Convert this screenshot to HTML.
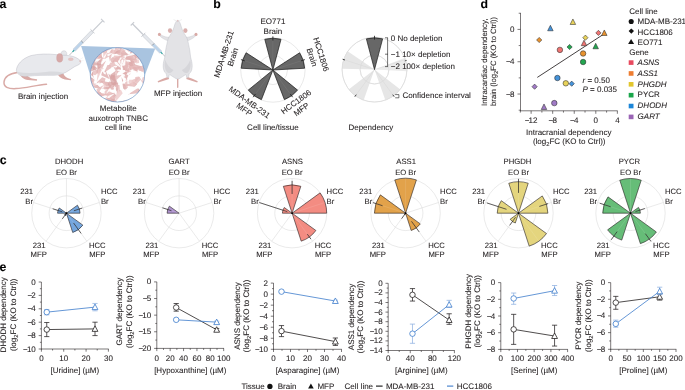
<!DOCTYPE html>
<html><head><meta charset="utf-8"><style>
html,body{margin:0;padding:0;background:#fff;}
body{width:685px;height:390px;overflow:hidden;}
svg{display:block;font-family:"Liberation Sans",sans-serif;will-change:transform;}
text{stroke:#231f20;stroke-width:0.08px;text-rendering:geometricPrecision;}
</style></head><body>
<svg width="685" height="390" viewBox="0 0 685 390">
<rect width="685" height="390" fill="#fff"/>
<text x="-0.50" y="8.20" font-size="12.3" fill="#000" font-weight="bold" >a</text>
<text x="213.20" y="8.20" font-size="12.3" fill="#000" font-weight="bold" >b</text>
<text x="-0.30" y="163.60" font-size="12.3" fill="#000" font-weight="bold" >c</text>
<text x="480.60" y="8.00" font-size="12.3" fill="#000" font-weight="bold" >d</text>
<text x="-0.40" y="271.30" font-size="12.3" fill="#000" font-weight="bold" >e</text>
<path d="M17.5,72.5 C10,73.5 4.5,77 4,82 C3.6,87 8,89 16,88.6 C26,88.2 36,85 46.5,84.2" fill="none" stroke="#d9aaa6" stroke-width="1.5" stroke-linecap="round"/>
<path d="M19.5,73 C20.5,77 23.5,79.4 28,80 L36.9,80.7 L37.1,79.3 C32,78.7 28.5,77.8 26.5,74.5 Z" fill="#d9aaa6"/>
<path d="M56.5,72 C58,76 60.8,78.7 65,79.5 L70.8,80.3 L71,78.9 C67,78.3 64.3,76.8 63,72.5 Z" fill="#d9aaa6"/>
<path d="M16.4,70.5 C16.5,65 22,58.5 31,55.6 C38,53.8 48,53.6 57,54.7 C63,55 69,55.2 73.5,56.6 C77,57.8 80,59.8 80.9,61.9 C80.8,63.8 78.2,65.2 75,66.4 C72,68.2 69,70.5 66,72.2 C62,74.2 58,75.2 54,75.3 C46,75.4 36,75.2 28,76.2 C22,76.8 17.2,75 16.4,70.5 Z" fill="#e8e9ed" stroke="#b9bac2" stroke-width="0.45"/>
<path d="M17,72 C19,75.5 23,76.6 28,76 C36,75 46,75.2 54,75.1 C58,75 61,74.2 64,73 C58,71.5 52,71.3 46,72 C36,73 26,73.5 17,72 Z" fill="#d9dade"/>
<path d="M61,55 C60.6,52 62.2,50.4 64.6,50.8 C66.6,51.3 67.2,53.2 66.6,55.2 Z" fill="#e6e7ea" stroke="#b9bac2" stroke-width="0.35"/>
<ellipse cx="59.7" cy="57.9" rx="3.1" ry="4.3" fill="#d7a9a8" stroke="#c49a98" stroke-width="0.3"/>
<ellipse cx="70.8" cy="59.3" rx="2.8" ry="1.7" fill="#e3c4c3"/>
<circle cx="80.2" cy="61.2" r="0.9" fill="#e3c0c0"/>
<path d="M79,60 L83,57.5 M79.5,61 L83.5,60.5" stroke="#ddd" stroke-width="0.3"/>
<path d="M81.1,45.9 L155.2,48.6 L144.5,76 L90.5,76 Z" fill="#a9c4e0"/>
<clipPath id="cc"><circle cx="117.5" cy="74.8" r="27.2"/></clipPath>
<circle cx="117.5" cy="74.8" r="27.2" fill="#fff"/>
<g clip-path="url(#cc)"><path d="M122.5,74.4 L115.6,80.8 L112.7,79.4 L113.2,76.2 Z" fill="#e6baba" opacity="0.78"/><path d="M89.3,94.5 L98.8,90.9 L101.3,92.7 L99.4,95.1 Z" fill="#deaaaa" opacity="0.78"/><path d="M109.4,40.8 L107.4,51.1 L104.8,52.6 L103.9,49.7 Z" fill="#deaaaa" opacity="0.78"/><path d="M140.2,79.4 L146.7,82.8 L146.7,85.2 L144.3,85.5 Z" fill="#e6baba" opacity="0.78"/><path d="M98.3,40.3 L93.2,49.3 L89.5,48.6 L89.0,44.9 Z" fill="#edc8c8" opacity="0.78"/><path d="M104.2,94.2 L114.5,92.8 L116.4,95.6 L113.8,97.9 Z" fill="#d9a4a4" opacity="0.78"/><path d="M84.8,89.2 L91.0,81.2 L94.5,82.8 L94.7,86.7 Z" fill="#e8bcbc" opacity="0.78"/><path d="M131.0,71.4 L128.1,63.8 L129.7,61.8 L131.8,63.3 Z" fill="#e8bcbc" opacity="0.78"/><path d="M102.6,103.3 L109.7,93.0 L113.7,93.7 L113.8,97.8 Z" fill="#e8bcbc" opacity="0.78"/><path d="M108.1,103.1 L99.1,103.1 L98.4,99.8 L101.0,97.6 Z" fill="#deaaaa" opacity="0.78"/><path d="M93.2,75.1 L93.8,83.1 L91.5,84.4 L90.0,82.4 Z" fill="#edc8c8" opacity="0.78"/><path d="M94.4,66.2 L89.5,72.1 L86.9,70.2 L86.8,66.9 Z" fill="#e8bcbc" opacity="0.78"/><path d="M95.2,101.0 L88.7,93.5 L90.1,90.5 L93.2,91.3 Z" fill="#e2b2b2" opacity="0.78"/><path d="M139.4,95.0 L145.6,88.8 L148.4,90.0 L148.0,93.0 Z" fill="#e2b2b2" opacity="0.78"/><path d="M97.0,95.2 L87.8,100.0 L85.2,97.0 L86.7,93.4 Z" fill="#e8bcbc" opacity="0.78"/><path d="M106.1,60.6 L101.6,69.8 L98.6,70.4 L98.5,67.4 Z" fill="#e2b2b2" opacity="0.78"/><path d="M101.4,52.4 L102.5,60.8 L100.0,62.3 L98.0,60.2 Z" fill="#e8bcbc" opacity="0.78"/><path d="M88.0,52.7 L93.9,55.9 L93.0,58.5 L90.3,59.0 Z" fill="#e6baba" opacity="0.78"/><path d="M105.3,103.3 L114.6,99.2 L117.0,102.1 L115.3,105.5 Z" fill="#e2b2b2" opacity="0.78"/><path d="M126.4,73.0 L122.2,63.6 L124.8,61.1 L128.0,62.8 Z" fill="#e2b2b2" opacity="0.78"/><path d="M135.7,112.3 L128.8,102.0 L130.9,98.5 L134.8,99.9 Z" fill="#e6baba" opacity="0.78"/><path d="M99.2,53.4 L90.7,49.2 L90.5,46.2 L93.5,45.8 Z" fill="#d9a4a4" opacity="0.78"/><path d="M134.1,51.6 L131.7,61.4 L128.7,62.4 L127.7,59.4 Z" fill="#e2b2b2" opacity="0.78"/><path d="M149.5,109.8 L141.1,105.2 L141.7,101.8 L145.1,101.3 Z" fill="#e6baba" opacity="0.78"/><path d="M130.6,58.0 L125.1,63.3 L122.8,62.5 L123.3,60.1 Z" fill="#edc8c8" opacity="0.78"/><path d="M119.6,62.0 L111.2,62.2 L110.3,59.2 L112.7,57.1 Z" fill="#e2b2b2" opacity="0.78"/><path d="M85.4,55.6 L92.4,50.2 L94.9,52.5 L94.2,55.8 Z" fill="#e6baba" opacity="0.78"/><path d="M128.5,54.6 L121.6,56.3 L121.1,52.9 L123.0,50.0 Z" fill="#d9a4a4" opacity="0.78"/><path d="M101.0,43.1 L107.4,45.4 L107.5,47.7 L105.2,48.5 Z" fill="#edc8c8" opacity="0.78"/><path d="M114.9,109.0 L105.1,107.3 L104.6,103.7 L107.8,102.0 Z" fill="#d9a4a4" opacity="0.78"/><path d="M139.6,50.7 L132.0,54.5 L129.8,53.0 L131.1,50.7 Z" fill="#deaaaa" opacity="0.78"/><path d="M132.2,102.4 L140.2,94.2 L143.9,95.7 L143.4,99.7 Z" fill="#e6baba" opacity="0.78"/><path d="M84.0,88.7 L87.2,83.0 L89.5,83.5 L89.8,85.8 Z" fill="#e8bcbc" opacity="0.78"/><path d="M133.4,97.3 L127.4,106.3 L124.0,106.2 L124.1,102.8 Z" fill="#d9a4a4" opacity="0.78"/><path d="M120.2,74.4 L128.8,69.7 L131.4,71.7 L130.0,74.8 Z" fill="#e6baba" opacity="0.78"/><path d="M82.0,81.8 L89.2,78.0 L91.1,80.7 L89.9,83.7 Z" fill="#deaaaa" opacity="0.78"/><path d="M123.0,85.4 L134.3,82.0 L137.1,84.2 L134.7,86.8 Z" fill="#e2b2b2" opacity="0.78"/><path d="M133.7,67.0 L125.6,58.1 L126.8,54.5 L130.6,55.4 Z" fill="#deaaaa" opacity="0.78"/><path d="M111.2,63.5 L116.0,56.8 L118.9,58.2 L119.2,61.5 Z" fill="#e2b2b2" opacity="0.78"/><path d="M133.5,63.9 L141.5,66.2 L142.0,68.9 L139.5,69.7 Z" fill="#deaaaa" opacity="0.78"/><path d="M114.7,100.1 L107.4,101.7 L107.0,98.1 L109.1,95.2 Z" fill="#e2b2b2" opacity="0.78"/><path d="M104.1,68.1 L95.2,75.3 L91.8,74.3 L93.0,71.0 Z" fill="#e6baba" opacity="0.78"/><path d="M123.4,53.6 L119.1,65.2 L115.6,66.2 L114.9,62.6 Z" fill="#e8bcbc" opacity="0.78"/><path d="M129.4,55.2 L138.8,59.9 L139.2,63.1 L136.0,63.4 Z" fill="#edc8c8" opacity="0.78"/><path d="M112.8,93.1 L105.5,94.8 L104.4,92.1 L106.1,89.8 Z" fill="#e8bcbc" opacity="0.78"/><path d="M135.6,50.2 L136.9,61.7 L133.2,63.4 L130.3,60.5 Z" fill="#e8bcbc" opacity="0.78"/><path d="M108.2,73.6 L117.2,81.0 L115.8,84.8 L111.7,84.7 Z" fill="#d9a4a4" opacity="0.78"/><path d="M99.0,104.5 L96.4,93.9 L99.5,91.7 L102.4,94.1 Z" fill="#e6baba" opacity="0.78"/><path d="M129.2,63.5 L127.5,54.9 L130.6,53.5 L133.3,55.7 Z" fill="#e6baba" opacity="0.78"/><path d="M123.5,113.9 L114.9,106.0 L116.0,102.3 L119.8,102.8 Z" fill="#e2b2b2" opacity="0.78"/><path d="M91.6,94.1 L95.2,100.5 L93.0,102.4 L90.3,101.4 Z" fill="#d9a4a4" opacity="0.78"/><path d="M131.3,42.1 L141.8,42.8 L143.1,46.0 L140.2,47.7 Z" fill="#edc8c8" opacity="0.78"/><path d="M118.2,93.8 L112.3,84.5 L114.6,81.4 L118.2,82.8 Z" fill="#d9a4a4" opacity="0.78"/><path d="M143.4,60.5 L141.0,52.1 L142.9,50.1 L144.9,51.9 Z" fill="#edc8c8" opacity="0.78"/><path d="M114.8,102.6 L117.0,90.6 L120.9,89.7 L122.7,93.3 Z" fill="#edc8c8" opacity="0.78"/><path d="M113.1,54.2 L116.0,45.6 L118.9,45.2 L119.8,48.1 Z" fill="#e8bcbc" opacity="0.78"/><path d="M95.0,99.5 L99.7,94.4 L102.0,96.2 L101.9,99.1 Z" fill="#d9a4a4" opacity="0.78"/><path d="M140.2,60.5 L132.3,54.8 L133.4,51.4 L137.0,51.3 Z" fill="#d9a4a4" opacity="0.78"/><path d="M117.2,102.1 L128.9,99.6 L131.8,101.4 L129.1,103.5 Z" fill="#e2b2b2" opacity="0.78"/><path d="M118.4,70.1 L115.6,79.5 L112.7,80.4 L112.0,77.5 Z" fill="#e6baba" opacity="0.78"/><path d="M135.0,86.1 L135.3,77.0 L138.9,76.5 L141.1,79.3 Z" fill="#e6baba" opacity="0.78"/><path d="M109.0,94.0 L100.3,98.5 L97.8,96.3 L99.2,93.2 Z" fill="#e2b2b2" opacity="0.78"/><path d="M120.4,51.9 L111.9,54.3 L110.1,51.6 L112.0,49.0 Z" fill="#e8bcbc" opacity="0.78"/><path d="M121.4,59.9 L120.8,69.9 L117.7,71.1 L115.9,68.2 Z" fill="#d9a4a4" opacity="0.78"/><path d="M86.4,103.6 L97.0,97.6 L100.3,99.9 L98.5,103.5 Z" fill="#deaaaa" opacity="0.78"/><path d="M109.7,79.3 L101.2,75.2 L102.2,71.7 L105.7,70.8 Z" fill="#deaaaa" opacity="0.78"/><path d="M113.6,54.3 L118.1,49.3 L120.3,50.6 L120.2,53.2 Z" fill="#d9a4a4" opacity="0.78"/><path d="M136.8,53.1 L131.5,46.9 L133.6,44.4 L136.9,44.9 Z" fill="#edc8c8" opacity="0.78"/><path d="M121.9,59.5 L131.1,56.7 L133.2,59.5 L131.2,62.2 Z" fill="#e6baba" opacity="0.78"/><path d="M121.5,77.1 L126.7,87.5 L125.8,90.5 L123.2,88.6 Z" fill="#d9a4a4" opacity="0.78"/><path d="M116.2,82.7 L109.8,77.9 L111.3,75.0 L114.5,74.9 Z" fill="#d9a4a4" opacity="0.78"/><path d="M91.4,55.2 L101.3,55.9 L102.9,58.4 L100.2,59.8 Z" fill="#d9a4a4" opacity="0.78"/><path d="M129.2,74.4 L122.1,66.7 L124.2,63.5 L128.0,64.1 Z" fill="#e2b2b2" opacity="0.78"/><path d="M105.8,100.3 L101.9,106.5 L99.3,105.8 L99.0,103.2 Z" fill="#d9a4a4" opacity="0.78"/><path d="M82.1,72.7 L91.9,65.5 L95.5,66.9 L94.1,70.4 Z" fill="#d9a4a4" opacity="0.78"/><path d="M92.6,63.4 L97.1,68.3 L95.7,70.4 L93.2,70.0 Z" fill="#d9a4a4" opacity="0.78"/><path d="M102.4,101.9 L107.0,92.1 L110.6,92.1 L111.3,95.7 Z" fill="#edc8c8" opacity="0.78"/><path d="M120.1,91.9 L115.8,86.5 L117.1,84.5 L119.4,85.0 Z" fill="#e8bcbc" opacity="0.78"/><path d="M140.6,76.6 L134.2,83.4 L131.4,82.8 L131.9,80.0 Z" fill="#e8bcbc" opacity="0.78"/><path d="M111.3,94.5 L99.7,97.2 L96.8,95.4 L99.4,93.3 Z" fill="#e8bcbc" opacity="0.78"/><path d="M101.4,88.7 L94.2,87.7 L94.1,84.9 L96.5,83.4 Z" fill="#deaaaa" opacity="0.78"/><path d="M113.5,67.0 L120.3,68.4 L119.6,71.5 L116.9,73.1 Z" fill="#e2b2b2" opacity="0.78"/><path d="M97.8,63.6 L100.5,72.1 L98.5,74.1 L96.3,72.4 Z" fill="#e2b2b2" opacity="0.78"/><path d="M90.3,98.2 L90.5,90.7 L93.9,90.9 L96.1,93.5 Z" fill="#d9a4a4" opacity="0.78"/><path d="M147.3,87.8 L141.6,79.6 L143.0,76.8 L146.0,77.9 Z" fill="#edc8c8" opacity="0.78"/><path d="M104.0,44.8 L107.6,51.9 L104.3,53.5 L101.0,52.2 Z" fill="#e2b2b2" opacity="0.78"/><path d="M137.7,87.6 L144.2,96.8 L142.2,100.1 L138.5,98.9 Z" fill="#deaaaa" opacity="0.78"/><path d="M102.2,48.4 L101.7,56.6 L99.3,57.8 L98.0,55.5 Z" fill="#edc8c8" opacity="0.78"/><path d="M154.2,101.3 L145.6,102.0 L145.1,98.4 L147.7,95.7 Z" fill="#edc8c8" opacity="0.78"/><path d="M99.4,80.5 L109.0,82.3 L109.9,85.4 L106.9,86.7 Z" fill="#deaaaa" opacity="0.78"/><path d="M126.9,75.0 L127.8,87.2 L125.8,89.8 L124.2,86.9 Z" fill="#e6baba" opacity="0.78"/><path d="M85.5,62.2 L93.2,56.1 L96.1,58.2 L95.3,61.8 Z" fill="#d9a4a4" opacity="0.78"/><path d="M110.0,62.1 L107.4,50.5 L110.1,47.8 L112.7,50.5 Z" fill="#e6baba" opacity="0.78"/><path d="M116.2,70.6 L114.4,77.6 L111.5,77.4 L110.3,74.8 Z" fill="#d9a4a4" opacity="0.78"/><path d="M92.4,74.4 L95.3,81.1 L92.0,82.2 L88.8,80.7 Z" fill="#e2b2b2" opacity="0.78"/><path d="M116.4,95.7 L112.7,104.9 L109.2,104.8 L108.3,101.5 Z" fill="#deaaaa" opacity="0.78"/><path d="M134.8,68.4 L144.8,67.7 L146.6,70.4 L144.0,72.4 Z" fill="#edc8c8" opacity="0.78"/><path d="M125.5,56.7 L117.5,63.8 L114.2,62.1 L115.0,58.4 Z" fill="#e8bcbc" opacity="0.78"/><path d="M95.0,61.3 L87.3,62.3 L86.7,59.0 L88.9,56.5 Z" fill="#deaaaa" opacity="0.78"/><path d="M83.1,69.4 L89.1,61.2 L92.6,62.3 L92.6,65.9 Z" fill="#edc8c8" opacity="0.78"/><path d="M83.9,102.9 L90.7,96.0 L93.9,98.2 L93.6,102.0 Z" fill="#e2b2b2" opacity="0.78"/><path d="M94.5,40.1 L92.0,51.6 L89.2,53.4 L88.3,50.1 Z" fill="#e2b2b2" opacity="0.78"/><path d="M117.5,45.6 L125.3,50.3 L125.3,53.2 L122.4,53.3 Z" fill="#e8bcbc" opacity="0.78"/><path d="M104.4,59.3 L107.2,52.3 L110.0,52.8 L110.9,55.5 Z" fill="#e6baba" opacity="0.78"/><path d="M93.9,84.9 L102.2,77.3 L105.6,78.4 L104.7,81.9 Z" fill="#e2b2b2" opacity="0.78"/><path d="M145.1,95.5 L141.4,88.8 L144.5,87.2 L147.8,88.3 Z" fill="#e6baba" opacity="0.78"/><path d="M123.6,76.4 L122.4,65.8 L125.3,63.8 L127.7,66.5 Z" fill="#e6baba" opacity="0.78"/><path d="M99.7,73.2 L96.3,61.5 L98.7,58.6 L101.5,61.1 Z" fill="#d9a4a4" opacity="0.78"/><path d="M148.6,99.1 L141.7,99.6 L140.9,97.1 L142.8,95.3 Z" fill="#deaaaa" opacity="0.78"/><path d="M90.4,54.6 L86.1,47.3 L88.8,45.2 L92.0,46.3 Z" fill="#d9a4a4" opacity="0.78"/><path d="M106.0,57.9 L97.2,61.3 L94.9,59.1 L96.7,56.6 Z" fill="#edc8c8" opacity="0.78"/><path d="M111.5,84.0 L109.7,90.7 L107.3,90.9 L106.3,88.6 Z" fill="#e6baba" opacity="0.78"/><path d="M127.9,94.5 L137.2,88.6 L140.2,90.0 L138.8,93.1 Z" fill="#e2b2b2" opacity="0.78"/><path d="M117.6,83.5 L109.6,86.7 L107.7,84.2 L109.2,81.4 Z" fill="#d9a4a4" opacity="0.78"/><path d="M131.7,48.0 L139.3,54.6 L138.4,57.8 L135.1,57.5 Z" fill="#edc8c8" opacity="0.78"/><path d="M84.0,46.3 L93.6,47.2 L94.3,50.7 L91.3,52.5 Z" fill="#edc8c8" opacity="0.78"/><path d="M132.7,56.0 L134.4,44.1 L138.0,42.7 L139.6,46.2 Z" fill="#d9a4a4" opacity="0.78"/><path d="M103.1,81.1 L107.7,87.8 L106.4,90.1 L103.9,89.2 Z" fill="#edc8c8" opacity="0.78"/><path d="M133.5,60.0 L128.1,66.6 L125.3,65.5 L125.4,62.5 Z" fill="#e6baba" opacity="0.78"/><path d="M150.0,96.7 L144.0,104.0 L140.8,102.3 L140.8,98.7 Z" fill="#edc8c8" opacity="0.78"/><path d="M125.2,56.0 L115.3,60.7 L112.5,58.6 L114.2,55.6 Z" fill="#e8bcbc" opacity="0.78"/><path d="M103.7,73.1 L107.5,65.0 L110.6,65.1 L111.2,68.1 Z" fill="#e2b2b2" opacity="0.78"/><path d="M126.5,71.3 L130.3,64.6 L133.2,65.8 L133.8,68.9 Z" fill="#e2b2b2" opacity="0.78"/><path d="M103.7,85.1 L99.2,91.8 L96.7,91.6 L96.7,89.1 Z" fill="#e6baba" opacity="0.78"/><path d="M89.2,60.2 L88.0,53.2 L91.4,52.9 L94.0,54.9 Z" fill="#deaaaa" opacity="0.78"/><path d="M92.9,71.3 L93.2,78.2 L91.0,79.2 L89.4,77.3 Z" fill="#d9a4a4" opacity="0.78"/><path d="M103.6,65.2 L93.3,65.5 L91.4,63.2 L94.0,61.7 Z" fill="#d9a4a4" opacity="0.78"/><path d="M101.4,88.3 L112.9,85.2 L115.7,87.3 L113.2,89.8 Z" fill="#deaaaa" opacity="0.78"/><path d="M121.0,63.1 L111.5,67.6 L108.7,65.6 L110.4,62.6 Z" fill="#e6baba" opacity="0.78"/><path d="M131.2,44.9 L138.0,47.1 L136.9,50.2 L134.0,51.5 Z" fill="#d9a4a4" opacity="0.78"/><path d="M103.7,49.6 L106.9,43.1 L109.6,43.9 L110.4,46.7 Z" fill="#e6baba" opacity="0.78"/><path d="M123.2,65.8 L128.4,75.8 L126.6,78.9 L123.6,77.1 Z" fill="#deaaaa" opacity="0.78"/><path d="M147.6,67.9 L139.8,60.8 L141.1,57.5 L144.8,57.8 Z" fill="#edc8c8" opacity="0.78"/><path d="M96.7,81.7 L98.0,69.6 L100.5,67.4 L101.6,70.6 Z" fill="#edc8c8" opacity="0.78"/><path d="M137.8,72.6 L128.5,64.6 L129.7,60.6 L133.9,61.0 Z" fill="#deaaaa" opacity="0.78"/><path d="M91.0,66.2 L90.5,74.5 L87.9,75.5 L86.5,73.2 Z" fill="#edc8c8" opacity="0.78"/><path d="M98.6,49.6 L102.7,58.7 L101.0,61.3 L98.5,59.5 Z" fill="#e2b2b2" opacity="0.78"/><path d="M151.0,62.8 L142.5,71.4 L138.7,70.5 L139.5,66.7 Z" fill="#e6baba" opacity="0.78"/><path d="M125.0,53.0 L117.6,62.3 L114.1,62.3 L114.6,58.8 Z" fill="#e6baba" opacity="0.78"/><path d="M139.3,44.0 L135.3,51.9 L132.4,51.9 L132.1,49.1 Z" fill="#e2b2b2" opacity="0.78"/><path d="M126.6,66.3 L136.2,65.7 L137.8,68.3 L135.4,70.1 Z" fill="#e8bcbc" opacity="0.78"/><path d="M135.8,59.7 L126.6,61.4 L124.7,58.9 L126.9,56.7 Z" fill="#e2b2b2" opacity="0.78"/><path d="M134.1,87.0 L128.3,82.3 L129.3,79.7 L132.1,79.7 Z" fill="#edc8c8" opacity="0.78"/><path d="M149.1,101.1 L139.8,95.1 L140.2,91.5 L143.9,91.3 Z" fill="#e6baba" opacity="0.78"/><path d="M120.3,47.9 L122.6,54.5 L119.4,55.3 L116.5,53.7 Z" fill="#e2b2b2" opacity="0.78"/><path d="M135.5,60.0 L134.9,49.3 L137.1,47.2 L138.8,49.8 Z" fill="#deaaaa" opacity="0.78"/><path d="M129.0,40.5 L131.7,50.0 L129.1,52.1 L126.5,50.0 Z" fill="#e8bcbc" opacity="0.78"/><path d="M140.5,66.5 L136.2,72.6 L133.4,70.6 L133.1,67.3 Z" fill="#e2b2b2" opacity="0.78"/><path d="M78.1,70.0 L89.9,66.3 L92.7,69.5 L90.1,72.9 Z" fill="#edc8c8" opacity="0.78"/><path d="M103.1,57.6 L103.5,48.1 L106.9,47.3 L109.0,50.1 Z" fill="#edc8c8" opacity="0.78"/><path d="M89.5,47.4 L94.9,54.1 L94.7,56.5 L92.5,55.5 Z" fill="#ffffff" opacity="0.9"/><path d="M124.7,56.8 L133.1,52.3 L135.6,52.8 L134.0,54.9 Z" fill="#ffffff" opacity="0.9"/><path d="M122.8,69.0 L115.0,64.3 L114.4,61.8 L117.0,62.0 Z" fill="#ffffff" opacity="0.9"/><path d="M141.5,83.7 L137.5,88.2 L135.6,87.9 L135.9,86.1 Z" fill="#ffffff" opacity="0.9"/><path d="M150.4,86.3 L142.2,90.0 L139.9,89.4 L141.5,87.6 Z" fill="#ffffff" opacity="0.9"/><path d="M90.4,61.2 L93.7,56.6 L95.4,56.4 L95.2,58.0 Z" fill="#ffffff" opacity="0.9"/><path d="M100.2,67.5 L105.7,72.5 L106.0,74.5 L104.0,73.9 Z" fill="#ffffff" opacity="0.9"/><path d="M100.7,87.6 L94.5,82.2 L93.8,80.1 L95.8,80.9 Z" fill="#ffffff" opacity="0.9"/><path d="M92.0,50.8 L100.2,48.0 L102.4,48.4 L100.6,49.7 Z" fill="#ffffff" opacity="0.9"/><path d="M83.2,105.7 L91.0,101.1 L93.3,101.2 L91.8,103.0 Z" fill="#ffffff" opacity="0.9"/><path d="M139.5,103.3 L134.8,99.2 L134.6,97.6 L136.3,98.1 Z" fill="#ffffff" opacity="0.9"/><path d="M135.4,70.0 L128.8,75.1 L126.4,74.8 L127.5,72.7 Z" fill="#ffffff" opacity="0.9"/><path d="M125.3,58.5 L125.3,65.1 L123.5,66.1 L122.3,64.3 Z" fill="#ffffff" opacity="0.9"/><path d="M121.6,67.5 L118.1,61.7 L118.6,59.9 L120.2,60.9 Z" fill="#ffffff" opacity="0.9"/><path d="M117.5,63.9 L120.0,57.8 L121.5,56.9 L121.5,58.6 Z" fill="#ffffff" opacity="0.9"/><path d="M123.2,59.4 L129.8,60.1 L131.0,61.4 L129.3,62.0 Z" fill="#ffffff" opacity="0.9"/><path d="M118.4,72.9 L124.6,74.2 L125.1,76.2 L123.2,77.0 Z" fill="#ffffff" opacity="0.9"/><path d="M152.6,83.3 L145.7,87.2 L143.6,87.1 L145.0,85.7 Z" fill="#ffffff" opacity="0.9"/><path d="M131.3,95.9 L125.5,91.0 L125.2,88.9 L127.2,89.5 Z" fill="#ffffff" opacity="0.9"/><path d="M112.6,47.4 L109.2,53.1 L107.1,53.1 L107.0,51.0 Z" fill="#ffffff" opacity="0.9"/><path d="M115.4,95.5 L113.6,87.6 L114.7,85.7 L116.0,87.5 Z" fill="#ffffff" opacity="0.9"/><path d="M97.3,105.7 L91.7,98.7 L92.0,96.1 L94.3,97.2 Z" fill="#ffffff" opacity="0.9"/><path d="M112.8,52.9 L108.7,56.2 L107.1,55.5 L107.6,53.8 Z" fill="#ffffff" opacity="0.9"/><path d="M106.1,93.7 L109.0,88.4 L110.8,88.2 L110.9,90.0 Z" fill="#ffffff" opacity="0.9"/><path d="M127.6,77.3 L134.2,70.9 L136.8,71.0 L135.9,73.4 Z" fill="#ffffff" opacity="0.9"/><path d="M145.8,45.3 L146.9,54.7 L145.3,56.8 L143.9,54.6 Z" fill="#ffffff" opacity="0.9"/><path d="M124.4,76.9 L125.1,82.9 L123.8,84.1 L122.8,82.7 Z" fill="#ffffff" opacity="0.9"/><path d="M96.5,81.1 L90.6,77.1 L90.1,75.2 L92.0,75.5 Z" fill="#ffffff" opacity="0.9"/><path d="M101.7,58.3 L97.3,61.8 L95.7,61.0 L96.2,59.2 Z" fill="#ffffff" opacity="0.9"/><path d="M123.8,95.2 L129.5,90.1 L131.4,89.8 L130.5,91.6 Z" fill="#ffffff" opacity="0.9"/><path d="M115.5,93.0 L109.3,98.0 L107.2,98.0 L108.2,96.1 Z" fill="#ffffff" opacity="0.9"/><path d="M96.0,98.8 L105.1,95.3 L107.6,96.1 L105.7,97.9 Z" fill="#ffffff" opacity="0.9"/><path d="M143.0,59.8 L134.9,54.1 L133.9,51.8 L136.3,52.5 Z" fill="#ffffff" opacity="0.9"/><path d="M128.1,71.8 L118.4,71.3 L116.3,70.0 L118.7,69.3 Z" fill="#ffffff" opacity="0.9"/><path d="M119.3,75.7 L123.1,70.0 L125.2,69.9 L125.1,72.0 Z" fill="#ffffff" opacity="0.9"/><path d="M139.3,105.1 L137.9,95.9 L138.8,93.6 L139.9,95.8 Z" fill="#ffffff" opacity="0.9"/><path d="M132.9,102.1 L138.3,99.7 L139.8,101.1 L138.8,102.7 Z" fill="#ffffff" opacity="0.9"/><path d="M128.8,80.1 L120.5,85.1 L117.8,84.4 L119.3,82.2 Z" fill="#ffffff" opacity="0.9"/><path d="M125.2,101.3 L129.6,94.7 L131.7,94.2 L131.4,96.4 Z" fill="#ffffff" opacity="0.9"/><path d="M93.7,85.8 L98.4,82.4 L99.9,82.5 L99.2,83.9 Z" fill="#ffffff" opacity="0.9"/></g>
<circle cx="117.5" cy="74.8" r="27.2" fill="none" stroke="#5b89bf" stroke-width="0.6"/>
<line x1="104.52" y1="22.27" x2="101.08" y2="18.93" stroke="#c9ccd2" stroke-width="1.1"/>
<line x1="102.80" y1="20.60" x2="92.81" y2="30.92" stroke="#c9ccd2" stroke-width="1.3"/>
<line x1="94.49" y1="33.21" x2="90.47" y2="29.32" stroke="#c2c5cb" stroke-width="0.9"/>
<path d="M93.22,32.65 L75.24,51.23 L73.08,49.14 L91.07,30.56 Z" fill="#e4e7ec" stroke="#a9aeb6" stroke-width="0.35"/>
<path d="M83.19,42.73 L75.10,51.09 L73.23,49.28 L81.32,40.92 Z" fill="#bcd3ea"/>
<line x1="83.26" y1="42.80" x2="81.25" y2="40.85" stroke="#555" stroke-width="0.5"/>
<line x1="74.16" y1="50.18" x2="72.50" y2="51.90" stroke="#2fa5a0" stroke-width="1.3"/>
<line x1="72.50" y1="51.90" x2="69.50" y2="55.00" stroke="#6f747b" stroke-width="0.45"/>
<line x1="134.10" y1="22.10" x2="130.70" y2="25.50" stroke="#c9ccd2" stroke-width="1.1"/>
<line x1="132.40" y1="23.80" x2="143.02" y2="34.42" stroke="#c9ccd2" stroke-width="1.3"/>
<line x1="145.35" y1="32.79" x2="141.39" y2="36.75" stroke="#c2c5cb" stroke-width="0.9"/>
<path d="M144.79,34.07 L161.78,51.06 L159.66,53.18 L142.67,36.19 Z" fill="#e4e7ec" stroke="#a9aeb6" stroke-width="0.35"/>
<path d="M153.99,43.55 L161.64,51.20 L159.80,53.04 L152.15,45.39 Z" fill="#bcd3ea"/>
<line x1="154.06" y1="43.48" x2="152.08" y2="45.46" stroke="#555" stroke-width="0.5"/>
<line x1="160.72" y1="52.12" x2="162.49" y2="53.89" stroke="#2fa5a0" stroke-width="1.3"/>
<line x1="162.49" y1="53.89" x2="167.80" y2="59.20" stroke="#6f747b" stroke-width="0.45"/>
<path d="M177.7,77 L177.7,87.3" stroke="#d9aaa6" stroke-width="1.4" stroke-linecap="round"/>
<path d="M168.2,76.8 C165,78 161,79.4 157.6,81.3 L158.2,82.4 C162,81.3 165.5,80.4 169.2,79.0 Z" fill="#d9aaa6"/>
<path d="M187.2,76.8 C190.4,78 194.4,79.4 197.8,81.3 L197.2,82.4 C193.4,81.3 189.9,80.4 186.2,79.0 Z" fill="#d9aaa6"/>
<path d="M170.6,37.2 C167.5,37.6 163.5,36.8 160.2,34.2 L159.4,35.6 C162.6,38.8 166.5,40.6 170.0,41.4 Z" fill="#e3e3e6" stroke="#b9bac2" stroke-width="0.35"/>
<path d="M184.8,37.2 C187.9,37.6 191.9,36.8 195.2,34.2 L196.0,35.6 C192.8,38.8 188.9,40.6 185.4,41.4 Z" fill="#e3e3e6" stroke="#b9bac2" stroke-width="0.35"/>
<ellipse cx="159.4" cy="34.4" rx="1.5" ry="1.7" fill="#d9aaa6"/>
<ellipse cx="196.0" cy="34.4" rx="1.5" ry="1.7" fill="#d9aaa6"/>
<path d="M177.70,20.30 C178.17,20.30 178.65,20.82 179.10,21.40 C179.55,21.98 180.03,22.90 180.40,23.80 C180.77,24.70 180.98,25.83 181.30,26.80 C181.62,27.77 181.93,28.68 182.30,29.60 C182.67,30.52 183.00,31.37 183.50,32.30 C184.00,33.23 184.67,34.08 185.30,35.20 C185.93,36.32 186.75,37.45 187.30,39.00 C187.85,40.55 188.17,42.50 188.60,44.50 C189.03,46.50 189.57,48.92 189.90,51.00 C190.23,53.08 190.30,55.25 190.60,57.00 C190.90,58.75 191.43,60.08 191.70,61.50 C191.97,62.92 192.18,64.17 192.20,65.50 C192.22,66.83 192.07,68.37 191.80,69.50 C191.53,70.63 191.02,71.62 190.60,72.30 C190.18,72.98 189.68,72.77 189.30,73.60 C188.92,74.43 188.73,76.63 188.30,77.30 C187.87,77.97 187.10,78.02 186.70,77.60 C186.30,77.18 186.57,74.97 185.90,74.80 C185.23,74.63 183.73,76.00 182.70,76.60 C181.67,77.20 180.53,78.00 179.70,78.40 C178.87,78.80 178.37,79.00 177.70,79.00 C177.03,79.00 176.53,78.80 175.70,78.40 C174.87,78.00 173.73,77.20 172.70,76.60 C171.67,76.00 170.17,74.63 169.50,74.80 C168.83,74.97 169.10,77.18 168.70,77.60 C168.30,78.02 167.53,77.97 167.10,77.30 C166.67,76.63 166.48,74.43 166.10,73.60 C165.72,72.77 165.22,72.98 164.80,72.30 C164.38,71.62 163.87,70.63 163.60,69.50 C163.33,68.37 163.18,66.83 163.20,65.50 C163.22,64.17 163.43,62.92 163.70,61.50 C163.97,60.08 164.50,58.75 164.80,57.00 C165.10,55.25 165.17,53.08 165.50,51.00 C165.83,48.92 166.37,46.50 166.80,44.50 C167.23,42.50 167.55,40.55 168.10,39.00 C168.65,37.45 169.47,36.32 170.10,35.20 C170.73,34.08 171.40,33.23 171.90,32.30 C172.40,31.37 172.73,30.52 173.10,29.60 C173.47,28.68 173.78,27.77 174.10,26.80 C174.42,25.83 174.63,24.70 175.00,23.80 C175.37,22.90 175.85,21.98 176.30,21.40 C176.75,20.82 177.23,20.30 177.70,20.30 Z" fill="#e3e3e6" stroke="#b9bac2" stroke-width="0.4"/>
<path d="M165.2,60 C164,65 165,70 167.5,72.5 C170,74 172.5,72 173.5,70 C170,68.5 167.2,65 165.2,60 Z" fill="#d6d6da"/>
<path d="M190.2,60 C191.4,65 190.4,70 187.9,72.5 C185.4,74 182.9,72 181.9,70 C185.4,68.5 188.2,65 190.2,60 Z" fill="#d6d6da"/>
<ellipse cx="170.0" cy="30.6" rx="2.1" ry="2.3" fill="#d9b0ae"/>
<ellipse cx="185.4" cy="30.6" rx="2.1" ry="2.3" fill="#d9b0ae"/>
<circle cx="177.7" cy="20.9" r="0.8" fill="#e2c2c2"/>
<path d="M177.7,21.5 L173.5,19.5 M177.7,21.5 L181.9,19.5" stroke="#ccc" stroke-width="0.3"/>
<text x="43.00" y="98.50" font-size="8.0" fill="#231f20" text-anchor="middle" >Brain injection</text>
<text x="178.10" y="95.60" font-size="8.0" fill="#231f20" text-anchor="middle" >MFP injection</text>
<text x="118.20" y="111.20" font-size="8.0" fill="#231f20" text-anchor="middle" >Metabolite</text>
<text x="118.20" y="120.80" font-size="8.0" fill="#231f20" text-anchor="middle" >auxotroph TNBC</text>
<text x="118.20" y="130.40" font-size="8.0" fill="#231f20" text-anchor="middle" >cell line</text>
<circle cx="272.9" cy="70.0" r="32.2" fill="none" stroke="#d6d6d6" stroke-width="0.55"/>
<circle cx="272.9" cy="70.0" r="14.6" fill="none" stroke="#d6d6d6" stroke-width="0.55"/>
<path d="M272.90,70.00 L281.02,39.26 A31.80,31.80 0 0 0 264.78,39.26 Z" fill="#676767" stroke="#1a1a1a" stroke-width="0.7" stroke-linejoin="miter"/>
<path d="M272.90,70.00 L304.65,68.22 A31.80,31.80 0 0 0 299.63,52.77 Z" fill="#676767" stroke="#1a1a1a" stroke-width="0.7" stroke-linejoin="miter"/>
<path d="M272.90,70.00 L284.40,99.65 A31.80,31.80 0 0 0 297.54,90.10 Z" fill="#676767" stroke="#1a1a1a" stroke-width="0.7" stroke-linejoin="miter"/>
<path d="M272.90,70.00 L248.26,90.10 A31.80,31.80 0 0 0 261.40,99.65 Z" fill="#676767" stroke="#1a1a1a" stroke-width="0.7" stroke-linejoin="miter"/>
<path d="M272.90,70.00 L246.17,52.77 A31.80,31.80 0 0 0 241.15,68.22 Z" fill="#676767" stroke="#1a1a1a" stroke-width="0.7" stroke-linejoin="miter"/>
<line x1="272.90" y1="70.00" x2="272.90" y2="39.00" stroke="rgba(255,255,255,0.1)" stroke-width="0.6" />
<line x1="272.90" y1="70.00" x2="302.38" y2="60.42" stroke="rgba(255,255,255,0.1)" stroke-width="0.6" />
<line x1="272.90" y1="70.00" x2="291.12" y2="95.08" stroke="rgba(255,255,255,0.1)" stroke-width="0.6" />
<line x1="272.90" y1="70.00" x2="254.68" y2="95.08" stroke="rgba(255,255,255,0.1)" stroke-width="0.6" />
<line x1="272.90" y1="70.00" x2="243.42" y2="60.42" stroke="rgba(255,255,255,0.1)" stroke-width="0.6" />
<line x1="272.90" y1="40.50" x2="272.90" y2="36.40" stroke="#1a1a1a" stroke-width="0.8" />
<line x1="300.96" y1="60.88" x2="304.86" y2="59.62" stroke="#1a1a1a" stroke-width="0.8" />
<line x1="290.24" y1="93.87" x2="292.65" y2="97.18" stroke="#1a1a1a" stroke-width="0.8" />
<line x1="255.56" y1="93.87" x2="253.15" y2="97.18" stroke="#1a1a1a" stroke-width="0.8" />
<line x1="244.84" y1="60.88" x2="240.94" y2="59.62" stroke="#1a1a1a" stroke-width="0.8" />
<text transform="translate(272.90,21.50) rotate(0.0)" font-size="8.0" fill="#231f20" text-anchor="middle" dominant-baseline="central">EO771</text>
<text transform="translate(272.90,31.00) rotate(0.0)" font-size="8.0" fill="#231f20" text-anchor="middle" dominant-baseline="central">Brain</text>
<text transform="translate(320.93,54.39) rotate(72.0)" font-size="8.0" fill="#231f20" text-anchor="middle" dominant-baseline="central">HCC1806</text>
<text transform="translate(311.89,57.33) rotate(72.0)" font-size="8.0" fill="#231f20" text-anchor="middle" dominant-baseline="central">Brain</text>
<text transform="translate(224.02,54.12) rotate(-72.0)" font-size="8.0" fill="#231f20" text-anchor="middle" dominant-baseline="central">MDA-MB-231</text>
<text transform="translate(233.05,57.05) rotate(-72.0)" font-size="8.0" fill="#231f20" text-anchor="middle" dominant-baseline="central">Brain</text>
<text transform="translate(249.39,102.36) rotate(36.0)" font-size="8.0" fill="#231f20" text-anchor="middle" dominant-baseline="central">MDA-MB-231</text>
<text transform="translate(244.10,109.64) rotate(36.0)" font-size="8.0" fill="#231f20" text-anchor="middle" dominant-baseline="central">MFP</text>
<text transform="translate(296.18,102.04) rotate(-36.0)" font-size="8.0" fill="#231f20" text-anchor="middle" dominant-baseline="central">HCC1806</text>
<text transform="translate(301.58,109.48) rotate(-36.0)" font-size="8.0" fill="#231f20" text-anchor="middle" dominant-baseline="central">MFP</text>
<text x="272.90" y="130.20" font-size="8.0" fill="#231f20" text-anchor="middle" >Cell line/tissue</text>
<circle cx="374.5" cy="69.6" r="32.4" fill="none" stroke="#d6d6d6" stroke-width="0.55"/>
<circle cx="374.5" cy="69.6" r="14.4" fill="none" stroke="#d6d6d6" stroke-width="0.55"/>
<path d="M374.50,69.60 L347.63,51.14 A32.60,32.60 0 0 0 341.91,68.75 Z" fill="#e6e6e6" stroke="none" stroke-width="0.6" stroke-linejoin="miter"/>
<path d="M374.50,69.60 L348.64,89.45 A32.60,32.60 0 0 0 363.62,100.33 Z" fill="#e6e6e6" stroke="none" stroke-width="0.6" stroke-linejoin="miter"/>
<path d="M374.50,69.60 L385.38,100.33 A32.60,32.60 0 0 0 400.36,89.45 Z" fill="#e6e6e6" stroke="none" stroke-width="0.6" stroke-linejoin="miter"/>
<path d="M374.50,69.60 L407.45,71.33 A33.00,33.00 0 0 0 405.31,57.77 Z" fill="#ebebeb" stroke="none" stroke-width="0.6" stroke-linejoin="miter"/>
<line x1="374.50" y1="69.60" x2="343.69" y2="59.59" stroke="#d6d6d6" stroke-width="0.5" />
<line x1="374.50" y1="69.60" x2="355.46" y2="95.81" stroke="#d6d6d6" stroke-width="0.5" />
<line x1="374.50" y1="69.60" x2="393.54" y2="95.81" stroke="#d6d6d6" stroke-width="0.5" />
<line x1="374.50" y1="69.60" x2="405.31" y2="59.59" stroke="#d6d6d6" stroke-width="0.5" />
<circle cx="374.5" cy="69.6" r="32.4" fill="none" stroke="#d6d6d6" stroke-width="0.55"/>
<circle cx="374.5" cy="69.6" r="14.4" fill="none" stroke="#d6d6d6" stroke-width="0.55"/>
<path d="M374.50,69.60 L382.62,38.86 A31.80,31.80 0 0 0 366.38,38.86 Z" fill="#676767" stroke="#1a1a1a" stroke-width="0.7" stroke-linejoin="miter"/>
<line x1="374.50" y1="39.60" x2="374.50" y2="35.80" stroke="#1a1a1a" stroke-width="0.8" />
<line x1="345.02" y1="60.02" x2="342.64" y2="59.25" stroke="#1a1a1a" stroke-width="0.8" />
<line x1="356.28" y1="94.68" x2="354.81" y2="96.70" stroke="#1a1a1a" stroke-width="0.8" />
<line x1="392.72" y1="94.68" x2="394.19" y2="96.70" stroke="#1a1a1a" stroke-width="0.8" />
<line x1="404.78" y1="60.92" x2="406.70" y2="60.37" stroke="#1a1a1a" stroke-width="0.7" />
<line x1="387.60" y1="37.80" x2="387.60" y2="66.60" stroke="#1a1a1a" stroke-width="0.6" />
<line x1="385.00" y1="37.80" x2="387.90" y2="37.80" stroke="#1a1a1a" stroke-width="0.6" />
<line x1="385.00" y1="54.20" x2="387.90" y2="54.20" stroke="#1a1a1a" stroke-width="0.6" />
<line x1="385.00" y1="66.60" x2="387.90" y2="66.60" stroke="#1a1a1a" stroke-width="0.6" />
<text x="390.80" y="40.80" font-size="8.0" fill="#231f20" >0 No depletion</text>
<text x="390.80" y="56.60" font-size="8.0" fill="#231f20" >−1 10× depletion</text>
<text x="390.80" y="68.60" font-size="8.0" fill="#231f20" >−2 100× depletion</text>
<path d="M395.2,94.6 L398.9,94.6 L398.9,97.8 L395.2,97.8" fill="none" stroke="#1a1a1a" stroke-width="0.6"/>
<text x="402.40" y="98.30" font-size="8.0" fill="#231f20" >Confidence interval</text>
<text x="370.90" y="129.90" font-size="8.0" fill="#231f20" text-anchor="middle" >Dependency</text>
<circle cx="66.45" cy="213.2" r="34.7" fill="none" stroke="#d9d9d9" stroke-width="0.55"/>
<circle cx="66.45" cy="213.2" r="17.35" fill="none" stroke="#d9d9d9" stroke-width="0.55"/>
<line x1="66.45" y1="213.20" x2="66.45" y2="178.50" stroke="#d9d9d9" stroke-width="0.55" />
<line x1="66.45" y1="213.20" x2="99.45" y2="202.48" stroke="#d9d9d9" stroke-width="0.55" />
<line x1="66.45" y1="213.20" x2="86.85" y2="241.27" stroke="#d9d9d9" stroke-width="0.55" />
<line x1="66.45" y1="213.20" x2="46.05" y2="241.27" stroke="#d9d9d9" stroke-width="0.55" />
<line x1="66.45" y1="213.20" x2="33.45" y2="202.48" stroke="#d9d9d9" stroke-width="0.55" />
<path d="M66.45,213.20 L80.05,213.20 A13.60,13.60 0 0 0 77.45,205.21 Z" fill="#74a6de" stroke="#231f20" stroke-width="0.6" stroke-linejoin="miter"/>
<path d="M66.45,213.20 L72.72,232.51 A20.30,20.30 0 0 0 82.87,225.13 Z" fill="#74a6de" stroke="#231f20" stroke-width="0.6" stroke-linejoin="miter"/>
<path d="M66.45,213.20 L59.25,207.97 A8.90,8.90 0 0 0 57.55,213.20 Z" fill="#74a6de" stroke="#231f20" stroke-width="0.6" stroke-linejoin="miter"/>
<path d="M66.45,213.20 L64.43,214.67 A2.50,2.50 0 0 0 65.68,215.58 Z" fill="#74a6de" stroke="#231f20" stroke-width="0.6" stroke-linejoin="miter"/>
<line x1="66.45" y1="213.20" x2="78.81" y2="209.18" stroke="rgba(255,255,255,0.18)" stroke-width="0.6" />
<line x1="66.45" y1="213.20" x2="78.03" y2="229.14" stroke="rgba(255,255,255,0.18)" stroke-width="0.6" />
<line x1="66.45" y1="213.20" x2="58.56" y2="210.64" stroke="rgba(255,255,255,0.18)" stroke-width="0.6" />
<line x1="73.87" y1="210.79" x2="82.24" y2="208.07" stroke="#231f20" stroke-width="0.7" />
<line x1="73.50" y1="222.91" x2="81.14" y2="233.43" stroke="#231f20" stroke-width="0.7" />
<line x1="62.36" y1="211.87" x2="52.66" y2="208.72" stroke="#231f20" stroke-width="0.7" />
<line x1="66.45" y1="213.20" x2="62.34" y2="218.86" stroke="#231f20" stroke-width="0.7" />
<circle cx="66.45" cy="213.2" r="0.9" fill="#000"/>
<text x="69.10" y="163.70" font-size="7.7" fill="#231f20" text-anchor="middle" >DHODH</text>
<text x="66.45" y="174.60" font-size="7.7" fill="#231f20" text-anchor="middle" >EO Br</text>
<text x="33.05" y="193.80" font-size="7.7" fill="#231f20" text-anchor="end" >231</text>
<text x="33.05" y="203.50" font-size="7.7" fill="#231f20" text-anchor="end" >Br</text>
<text x="100.95" y="193.80" font-size="7.7" fill="#231f20" >HCC</text>
<text x="100.95" y="203.50" font-size="7.7" fill="#231f20" >Br</text>
<text x="39.15" y="247.70" font-size="7.7" fill="#231f20" text-anchor="middle" >231</text>
<text x="38.65" y="256.90" font-size="7.7" fill="#231f20" text-anchor="middle" >MFP</text>
<text x="97.35" y="247.70" font-size="7.7" fill="#231f20" text-anchor="middle" >HCC</text>
<text x="97.35" y="256.90" font-size="7.7" fill="#231f20" text-anchor="middle" >MFP</text>
<circle cx="179.1" cy="213.2" r="34.7" fill="none" stroke="#d9d9d9" stroke-width="0.55"/>
<circle cx="179.1" cy="213.2" r="17.35" fill="none" stroke="#d9d9d9" stroke-width="0.55"/>
<line x1="179.10" y1="213.20" x2="179.10" y2="178.50" stroke="#d9d9d9" stroke-width="0.55" />
<line x1="179.10" y1="213.20" x2="212.10" y2="202.48" stroke="#d9d9d9" stroke-width="0.55" />
<line x1="179.10" y1="213.20" x2="199.50" y2="241.27" stroke="#d9d9d9" stroke-width="0.55" />
<line x1="179.10" y1="213.20" x2="158.70" y2="241.27" stroke="#d9d9d9" stroke-width="0.55" />
<line x1="179.10" y1="213.20" x2="146.10" y2="202.48" stroke="#d9d9d9" stroke-width="0.55" />
<path d="M179.10,213.20 L169.39,206.15 A12.00,12.00 0 0 0 167.10,213.20 Z" fill="#b095d0" stroke="#231f20" stroke-width="0.6" stroke-linejoin="miter"/>
<line x1="179.10" y1="213.20" x2="168.26" y2="209.68" stroke="rgba(255,255,255,0.18)" stroke-width="0.6" />
<line x1="171.49" y1="210.73" x2="162.46" y2="207.79" stroke="#231f20" stroke-width="0.7" />
<text x="179.10" y="163.70" font-size="7.7" fill="#231f20" text-anchor="middle" >GART</text>
<text x="179.10" y="174.60" font-size="7.7" fill="#231f20" text-anchor="middle" >EO Br</text>
<text x="145.70" y="193.80" font-size="7.7" fill="#231f20" text-anchor="end" >231</text>
<text x="145.70" y="203.50" font-size="7.7" fill="#231f20" text-anchor="end" >Br</text>
<text x="213.60" y="193.80" font-size="7.7" fill="#231f20" >HCC</text>
<text x="213.60" y="203.50" font-size="7.7" fill="#231f20" >Br</text>
<text x="151.80" y="247.70" font-size="7.7" fill="#231f20" text-anchor="middle" >231</text>
<text x="151.30" y="256.90" font-size="7.7" fill="#231f20" text-anchor="middle" >MFP</text>
<text x="210.00" y="247.70" font-size="7.7" fill="#231f20" text-anchor="middle" >HCC</text>
<text x="210.00" y="256.90" font-size="7.7" fill="#231f20" text-anchor="middle" >MFP</text>
<circle cx="292.1" cy="213.2" r="34.7" fill="none" stroke="#d9d9d9" stroke-width="0.55"/>
<circle cx="292.1" cy="213.2" r="17.35" fill="none" stroke="#d9d9d9" stroke-width="0.55"/>
<line x1="292.10" y1="213.20" x2="292.10" y2="178.50" stroke="#d9d9d9" stroke-width="0.55" />
<line x1="292.10" y1="213.20" x2="325.10" y2="202.48" stroke="#d9d9d9" stroke-width="0.55" />
<line x1="292.10" y1="213.20" x2="312.50" y2="241.27" stroke="#d9d9d9" stroke-width="0.55" />
<line x1="292.10" y1="213.20" x2="271.70" y2="241.27" stroke="#d9d9d9" stroke-width="0.55" />
<line x1="292.10" y1="213.20" x2="259.10" y2="202.48" stroke="#d9d9d9" stroke-width="0.55" />
<path d="M292.10,213.20 L300.85,186.29 A28.30,28.30 0 0 0 283.35,186.29 Z" fill="#f38c82" stroke="#231f20" stroke-width="0.6" stroke-linejoin="miter"/>
<path d="M292.10,213.20 L326.70,213.20 A34.60,34.60 0 0 0 320.09,192.86 Z" fill="#f38c82" stroke="#231f20" stroke-width="0.6" stroke-linejoin="miter"/>
<path d="M292.10,213.20 L301.19,241.16 A29.40,29.40 0 0 0 315.89,230.48 Z" fill="#f38c82" stroke="#231f20" stroke-width="0.6" stroke-linejoin="miter"/>
<path d="M292.10,213.20 L284.25,207.50 A9.70,9.70 0 0 0 282.40,213.20 Z" fill="#f38c82" stroke="#231f20" stroke-width="0.6" stroke-linejoin="miter"/>
<line x1="292.10" y1="213.20" x2="292.10" y2="185.50" stroke="rgba(255,255,255,0.18)" stroke-width="0.6" />
<line x1="292.10" y1="213.20" x2="324.44" y2="202.69" stroke="rgba(255,255,255,0.18)" stroke-width="0.6" />
<line x1="292.10" y1="213.20" x2="309.03" y2="236.50" stroke="rgba(255,255,255,0.18)" stroke-width="0.6" />
<line x1="292.10" y1="213.20" x2="283.45" y2="210.39" stroke="rgba(255,255,255,0.18)" stroke-width="0.6" />
<line x1="292.10" y1="194.00" x2="292.10" y2="180.90" stroke="#231f20" stroke-width="0.7" />
<line x1="307.32" y1="234.15" x2="310.91" y2="239.09" stroke="#231f20" stroke-width="0.7" />
<line x1="287.34" y1="211.65" x2="259.29" y2="202.54" stroke="#231f20" stroke-width="0.7" />
<circle cx="292.1" cy="213.2" r="0.9" fill="#000"/>
<text x="292.40" y="163.70" font-size="7.7" fill="#231f20" text-anchor="middle" >ASNS</text>
<text x="292.10" y="174.60" font-size="7.7" fill="#231f20" text-anchor="middle" >EO Br</text>
<text x="258.70" y="193.80" font-size="7.7" fill="#231f20" text-anchor="end" >231</text>
<text x="258.70" y="203.50" font-size="7.7" fill="#231f20" text-anchor="end" >Br</text>
<text x="326.60" y="193.80" font-size="7.7" fill="#231f20" >HCC</text>
<text x="326.60" y="203.50" font-size="7.7" fill="#231f20" >Br</text>
<text x="264.80" y="247.70" font-size="7.7" fill="#231f20" text-anchor="middle" >231</text>
<text x="264.30" y="256.90" font-size="7.7" fill="#231f20" text-anchor="middle" >MFP</text>
<text x="323.00" y="247.70" font-size="7.7" fill="#231f20" text-anchor="middle" >HCC</text>
<text x="323.00" y="256.90" font-size="7.7" fill="#231f20" text-anchor="middle" >MFP</text>
<circle cx="405.6" cy="213.2" r="34.7" fill="none" stroke="#d9d9d9" stroke-width="0.55"/>
<circle cx="405.6" cy="213.2" r="17.35" fill="none" stroke="#d9d9d9" stroke-width="0.55"/>
<line x1="405.60" y1="213.20" x2="405.60" y2="178.50" stroke="#d9d9d9" stroke-width="0.55" />
<line x1="405.60" y1="213.20" x2="438.60" y2="202.48" stroke="#d9d9d9" stroke-width="0.55" />
<line x1="405.60" y1="213.20" x2="426.00" y2="241.27" stroke="#d9d9d9" stroke-width="0.55" />
<line x1="405.60" y1="213.20" x2="385.20" y2="241.27" stroke="#d9d9d9" stroke-width="0.55" />
<line x1="405.60" y1="213.20" x2="372.60" y2="202.48" stroke="#d9d9d9" stroke-width="0.55" />
<path d="M405.60,213.20 L416.42,179.91 A35.00,35.00 0 0 0 394.78,179.91 Z" fill="#e2a24a" stroke="#231f20" stroke-width="0.6" stroke-linejoin="miter"/>
<path d="M405.60,213.20 L380.36,194.86 A31.20,31.20 0 0 0 374.40,213.20 Z" fill="#e2a24a" stroke="#231f20" stroke-width="0.6" stroke-linejoin="miter"/>
<path d="M405.60,213.20 L411.22,230.51 A18.20,18.20 0 0 0 420.32,223.90 Z" fill="#e2a24a" stroke="#231f20" stroke-width="0.6" stroke-linejoin="miter"/>
<path d="M405.60,213.20 L404.39,214.08 A1.50,1.50 0 0 0 405.14,214.63 Z" fill="#e2a24a" stroke="#231f20" stroke-width="0.6" stroke-linejoin="miter"/>
<line x1="405.60" y1="213.20" x2="405.60" y2="178.80" stroke="rgba(255,255,255,0.18)" stroke-width="0.6" />
<line x1="405.60" y1="213.20" x2="376.50" y2="203.74" stroke="rgba(255,255,255,0.18)" stroke-width="0.6" />
<line x1="405.60" y1="213.20" x2="415.95" y2="227.44" stroke="rgba(255,255,255,0.18)" stroke-width="0.6" />
<line x1="382.58" y1="205.72" x2="372.98" y2="202.60" stroke="#231f20" stroke-width="0.7" />
<line x1="411.48" y1="221.29" x2="419.24" y2="231.97" stroke="#231f20" stroke-width="0.7" />
<line x1="405.60" y1="213.20" x2="401.60" y2="218.70" stroke="#231f20" stroke-width="0.7" />
<circle cx="405.6" cy="213.2" r="0.9" fill="#000"/>
<text x="406.20" y="163.70" font-size="7.7" fill="#231f20" text-anchor="middle" >ASS1</text>
<text x="405.60" y="174.60" font-size="7.7" fill="#231f20" text-anchor="middle" >EO Br</text>
<text x="372.20" y="193.80" font-size="7.7" fill="#231f20" text-anchor="end" >231</text>
<text x="372.20" y="203.50" font-size="7.7" fill="#231f20" text-anchor="end" >Br</text>
<text x="440.10" y="193.80" font-size="7.7" fill="#231f20" >HCC</text>
<text x="440.10" y="203.50" font-size="7.7" fill="#231f20" >Br</text>
<text x="378.30" y="247.70" font-size="7.7" fill="#231f20" text-anchor="middle" >231</text>
<text x="377.80" y="256.90" font-size="7.7" fill="#231f20" text-anchor="middle" >MFP</text>
<text x="436.50" y="247.70" font-size="7.7" fill="#231f20" text-anchor="middle" >HCC</text>
<text x="436.50" y="256.90" font-size="7.7" fill="#231f20" text-anchor="middle" >MFP</text>
<circle cx="518.5" cy="213.2" r="34.7" fill="none" stroke="#d9d9d9" stroke-width="0.55"/>
<circle cx="518.5" cy="213.2" r="17.35" fill="none" stroke="#d9d9d9" stroke-width="0.55"/>
<line x1="518.50" y1="213.20" x2="518.50" y2="178.50" stroke="#d9d9d9" stroke-width="0.55" />
<line x1="518.50" y1="213.20" x2="551.50" y2="202.48" stroke="#d9d9d9" stroke-width="0.55" />
<line x1="518.50" y1="213.20" x2="538.90" y2="241.27" stroke="#d9d9d9" stroke-width="0.55" />
<line x1="518.50" y1="213.20" x2="498.10" y2="241.27" stroke="#d9d9d9" stroke-width="0.55" />
<line x1="518.50" y1="213.20" x2="485.50" y2="202.48" stroke="#d9d9d9" stroke-width="0.55" />
<path d="M518.50,213.20 L528.23,183.24 A31.50,31.50 0 0 0 508.77,183.24 Z" fill="#e4d57e" stroke="#231f20" stroke-width="0.6" stroke-linejoin="miter"/>
<path d="M518.50,213.20 L547.90,213.20 A29.40,29.40 0 0 0 542.29,195.92 Z" fill="#e4d57e" stroke="#231f20" stroke-width="0.6" stroke-linejoin="miter"/>
<path d="M518.50,213.20 L529.19,246.11 A34.60,34.60 0 0 0 546.49,233.54 Z" fill="#e4d57e" stroke="#231f20" stroke-width="0.6" stroke-linejoin="miter"/>
<path d="M518.50,213.20 L501.27,200.68 A21.30,21.30 0 0 0 497.20,213.20 Z" fill="#e4d57e" stroke="#231f20" stroke-width="0.6" stroke-linejoin="miter"/>
<path d="M518.50,213.20 L510.17,219.25 A10.30,10.30 0 0 0 515.32,223.00 Z" fill="#e4d57e" stroke="#231f20" stroke-width="0.6" stroke-linejoin="miter"/>
<line x1="518.50" y1="213.20" x2="518.50" y2="182.30" stroke="rgba(255,255,255,0.18)" stroke-width="0.6" />
<line x1="518.50" y1="213.20" x2="545.89" y2="204.30" stroke="rgba(255,255,255,0.18)" stroke-width="0.6" />
<line x1="518.50" y1="213.20" x2="538.48" y2="240.71" stroke="rgba(255,255,255,0.18)" stroke-width="0.6" />
<line x1="518.50" y1="213.20" x2="498.81" y2="206.80" stroke="rgba(255,255,255,0.18)" stroke-width="0.6" />
<line x1="518.50" y1="213.20" x2="512.80" y2="221.05" stroke="rgba(255,255,255,0.18)" stroke-width="0.6" />
<line x1="518.50" y1="192.90" x2="518.50" y2="178.90" stroke="#231f20" stroke-width="0.7" />
<line x1="539.33" y1="206.43" x2="548.08" y2="203.59" stroke="#231f20" stroke-width="0.7" />
<line x1="506.52" y1="209.31" x2="486.83" y2="202.91" stroke="#231f20" stroke-width="0.7" />
<line x1="515.56" y1="217.25" x2="509.68" y2="225.34" stroke="#231f20" stroke-width="0.7" />
<circle cx="518.5" cy="213.2" r="0.9" fill="#000"/>
<text x="517.40" y="163.70" font-size="7.7" fill="#231f20" text-anchor="middle" >PHGDH</text>
<text x="518.50" y="174.60" font-size="7.7" fill="#231f20" text-anchor="middle" >EO Br</text>
<text x="485.10" y="193.80" font-size="7.7" fill="#231f20" text-anchor="end" >231</text>
<text x="485.10" y="203.50" font-size="7.7" fill="#231f20" text-anchor="end" >Br</text>
<text x="553.00" y="193.80" font-size="7.7" fill="#231f20" >HCC</text>
<text x="553.00" y="203.50" font-size="7.7" fill="#231f20" >Br</text>
<text x="491.20" y="247.70" font-size="7.7" fill="#231f20" text-anchor="middle" >231</text>
<text x="490.70" y="256.90" font-size="7.7" fill="#231f20" text-anchor="middle" >MFP</text>
<text x="549.40" y="247.70" font-size="7.7" fill="#231f20" text-anchor="middle" >HCC</text>
<text x="549.40" y="256.90" font-size="7.7" fill="#231f20" text-anchor="middle" >MFP</text>
<circle cx="630.5" cy="213.2" r="34.7" fill="none" stroke="#d9d9d9" stroke-width="0.55"/>
<circle cx="630.5" cy="213.2" r="17.35" fill="none" stroke="#d9d9d9" stroke-width="0.55"/>
<line x1="630.50" y1="213.20" x2="630.50" y2="178.50" stroke="#d9d9d9" stroke-width="0.55" />
<line x1="630.50" y1="213.20" x2="663.50" y2="202.48" stroke="#d9d9d9" stroke-width="0.55" />
<line x1="630.50" y1="213.20" x2="650.90" y2="241.27" stroke="#d9d9d9" stroke-width="0.55" />
<line x1="630.50" y1="213.20" x2="610.10" y2="241.27" stroke="#d9d9d9" stroke-width="0.55" />
<line x1="630.50" y1="213.20" x2="597.50" y2="202.48" stroke="#d9d9d9" stroke-width="0.55" />
<path d="M630.50,213.20 L641.22,180.20 A34.70,34.70 0 0 0 619.78,180.20 Z" fill="#66bd78" stroke="#231f20" stroke-width="0.6" stroke-linejoin="miter"/>
<path d="M630.50,213.20 L640.40,213.20 A9.90,9.90 0 0 0 638.51,207.38 Z" fill="#66bd78" stroke="#231f20" stroke-width="0.6" stroke-linejoin="miter"/>
<path d="M630.50,213.20 L640.39,243.63 A32.00,32.00 0 0 0 656.39,232.01 Z" fill="#66bd78" stroke="#231f20" stroke-width="0.6" stroke-linejoin="miter"/>
<path d="M630.50,213.20 L607.60,229.83 A28.30,28.30 0 0 0 621.75,240.11 Z" fill="#66bd78" stroke="#231f20" stroke-width="0.6" stroke-linejoin="miter"/>
<path d="M630.50,213.20 L608.01,196.86 A27.80,27.80 0 0 0 602.70,213.20 Z" fill="#66bd78" stroke="#231f20" stroke-width="0.6" stroke-linejoin="miter"/>
<line x1="630.50" y1="213.20" x2="630.50" y2="179.10" stroke="rgba(255,255,255,0.18)" stroke-width="0.6" />
<line x1="630.50" y1="213.20" x2="639.34" y2="210.33" stroke="rgba(255,255,255,0.18)" stroke-width="0.6" />
<line x1="630.50" y1="213.20" x2="648.96" y2="238.60" stroke="rgba(255,255,255,0.18)" stroke-width="0.6" />
<line x1="630.50" y1="213.20" x2="614.22" y2="235.61" stroke="rgba(255,255,255,0.18)" stroke-width="0.6" />
<line x1="630.50" y1="213.20" x2="604.63" y2="204.79" stroke="rgba(255,255,255,0.18)" stroke-width="0.6" />
<line x1="635.45" y1="211.59" x2="644.86" y2="208.53" stroke="#231f20" stroke-width="0.7" />
<line x1="645.31" y1="233.59" x2="650.95" y2="241.35" stroke="#231f20" stroke-width="0.7" />
<line x1="617.16" y1="231.56" x2="611.16" y2="239.82" stroke="#231f20" stroke-width="0.7" />
<line x1="610.72" y1="206.77" x2="599.78" y2="203.22" stroke="#231f20" stroke-width="0.7" />
<circle cx="630.5" cy="213.2" r="0.9" fill="#000"/>
<text x="629.40" y="163.70" font-size="7.7" fill="#231f20" text-anchor="middle" >PYCR</text>
<text x="630.50" y="174.60" font-size="7.7" fill="#231f20" text-anchor="middle" >EO Br</text>
<text x="597.10" y="193.80" font-size="7.7" fill="#231f20" text-anchor="end" >231</text>
<text x="597.10" y="203.50" font-size="7.7" fill="#231f20" text-anchor="end" >Br</text>
<text x="665.00" y="193.80" font-size="7.7" fill="#231f20" >HCC</text>
<text x="665.00" y="203.50" font-size="7.7" fill="#231f20" >Br</text>
<text x="603.20" y="247.70" font-size="7.7" fill="#231f20" text-anchor="middle" >231</text>
<text x="602.70" y="256.90" font-size="7.7" fill="#231f20" text-anchor="middle" >MFP</text>
<text x="661.40" y="247.70" font-size="7.7" fill="#231f20" text-anchor="middle" >HCC</text>
<text x="661.40" y="256.90" font-size="7.7" fill="#231f20" text-anchor="middle" >MFP</text>
<line x1="520.50" y1="12.90" x2="520.50" y2="111.10" stroke="#231f20" stroke-width="0.6" />
<line x1="520.20" y1="110.80" x2="617.60" y2="110.80" stroke="#231f20" stroke-width="0.6" />
<line x1="518.70" y1="13.24" x2="520.50" y2="13.24" stroke="#231f20" stroke-width="0.6" />
<line x1="517.50" y1="29.40" x2="520.50" y2="29.40" stroke="#231f20" stroke-width="0.6" />
<line x1="518.70" y1="45.56" x2="520.50" y2="45.56" stroke="#231f20" stroke-width="0.6" />
<line x1="517.50" y1="61.72" x2="520.50" y2="61.72" stroke="#231f20" stroke-width="0.6" />
<line x1="518.70" y1="77.88" x2="520.50" y2="77.88" stroke="#231f20" stroke-width="0.6" />
<line x1="517.50" y1="94.04" x2="520.50" y2="94.04" stroke="#231f20" stroke-width="0.6" />
<line x1="518.70" y1="110.20" x2="520.50" y2="110.20" stroke="#231f20" stroke-width="0.6" />
<text x="514.40" y="32.15" font-size="8.0" fill="#231f20" text-anchor="end" >0</text>
<text x="514.40" y="64.47" font-size="8.0" fill="#231f20" text-anchor="end" ><tspan letter-spacing="-0.8">−</tspan>4</text>
<text x="514.40" y="96.79" font-size="8.0" fill="#231f20" text-anchor="end" ><tspan letter-spacing="-0.8">−</tspan>8</text>
<line x1="520.34" y1="110.80" x2="520.34" y2="112.60" stroke="#231f20" stroke-width="0.6" />
<line x1="531.12" y1="110.80" x2="531.12" y2="113.80" stroke="#231f20" stroke-width="0.6" />
<line x1="541.90" y1="110.80" x2="541.90" y2="112.60" stroke="#231f20" stroke-width="0.6" />
<line x1="552.68" y1="110.80" x2="552.68" y2="113.80" stroke="#231f20" stroke-width="0.6" />
<line x1="563.46" y1="110.80" x2="563.46" y2="112.60" stroke="#231f20" stroke-width="0.6" />
<line x1="574.24" y1="110.80" x2="574.24" y2="113.80" stroke="#231f20" stroke-width="0.6" />
<line x1="585.02" y1="110.80" x2="585.02" y2="112.60" stroke="#231f20" stroke-width="0.6" />
<line x1="595.80" y1="110.80" x2="595.80" y2="113.80" stroke="#231f20" stroke-width="0.6" />
<line x1="606.58" y1="110.80" x2="606.58" y2="112.60" stroke="#231f20" stroke-width="0.6" />
<line x1="617.36" y1="110.80" x2="617.36" y2="113.80" stroke="#231f20" stroke-width="0.6" />
<text x="531.12" y="122.50" font-size="8.0" fill="#231f20" text-anchor="middle" ><tspan letter-spacing="-0.8">−</tspan>12</text>
<text x="552.68" y="122.50" font-size="8.0" fill="#231f20" text-anchor="middle" ><tspan letter-spacing="-0.8">−</tspan>8</text>
<text x="574.24" y="122.50" font-size="8.0" fill="#231f20" text-anchor="middle" ><tspan letter-spacing="-0.8">−</tspan>4</text>
<text x="595.80" y="122.50" font-size="8.0" fill="#231f20" text-anchor="middle" >0</text>
<text x="617.36" y="122.50" font-size="8.0" fill="#231f20" text-anchor="middle" >4</text>
<text x="568.80" y="135.20" font-size="8.0" fill="#231f20" text-anchor="middle" >Intracranial dependency</text>
<text x="569.20" y="144.30" font-size="8.0" fill="#231f20" text-anchor="middle" >(log<tspan font-size="5.8" dy="2.0">2</tspan><tspan dy="-2.0">FC (KO to Ctrl))</tspan></text>
<text transform="translate(487.40,62.20) rotate(-90)" font-size="7.85" fill="#231f20" text-anchor="middle" >Intracardiac dependency,</text>
<text transform="translate(496.10,61.40) rotate(-90)" font-size="7.7" fill="#231f20" text-anchor="middle" >brain (log<tspan font-size="5.8" dy="2.0">2</tspan><tspan dy="-2.0">FC (KO to Ctrl))</tspan></text>
<line x1="537.3" y1="77.4" x2="603.8" y2="34.1" stroke="#231f20" stroke-width="0.85"/>
<path d="M550.40,25.27 L553.15,30.78 L547.65,30.78 Z" fill="#4593da" stroke="#2a2a2a" stroke-width="0.55"/>
<path d="M572.90,18.98 L575.65,24.48 L570.15,24.48 Z" fill="#e8d25a" stroke="#2a2a2a" stroke-width="0.55"/>
<path d="M539.20,37.39 L541.81,40.00 L539.20,42.61 L536.59,40.00 Z" fill="#e7922f" stroke="#2a2a2a" stroke-width="0.55"/>
<path d="M598.40,30.29 L601.01,32.90 L598.40,35.51 L595.79,32.90 Z" fill="#f07472" stroke="#2a2a2a" stroke-width="0.55"/>
<path d="M604.30,29.98 L607.05,35.48 L601.55,35.48 Z" fill="#e7922f" stroke="#2a2a2a" stroke-width="0.55"/>
<path d="M585.40,35.09 L588.01,37.70 L585.40,40.31 L582.79,37.70 Z" fill="#e8d25a" stroke="#2a2a2a" stroke-width="0.55"/>
<path d="M584.00,40.18 L586.75,45.68 L581.25,45.68 Z" fill="#f07472" stroke="#2a2a2a" stroke-width="0.55"/>
<path d="M595.70,43.27 L598.45,48.77 L592.95,48.77 Z" fill="#23a650" stroke="#2a2a2a" stroke-width="0.55"/>
<path d="M569.60,44.39 L572.21,47.00 L569.60,49.61 L566.99,47.00 Z" fill="#23a650" stroke="#2a2a2a" stroke-width="0.55"/>
<circle cx="559.90" cy="49.90" r="2.75" fill="#f07472" stroke="#2a2a2a" stroke-width="0.55"/>
<circle cx="583.10" cy="53.50" r="2.75" fill="#e7922f" stroke="#2a2a2a" stroke-width="0.55"/>
<circle cx="583.10" cy="62.00" r="2.75" fill="#23a650" stroke="#2a2a2a" stroke-width="0.55"/>
<circle cx="557.40" cy="78.00" r="2.75" fill="#4593da" stroke="#2a2a2a" stroke-width="0.55"/>
<circle cx="565.80" cy="83.30" r="2.75" fill="#e8d25a" stroke="#2a2a2a" stroke-width="0.55"/>
<path d="M571.70,81.09 L574.31,83.70 L571.70,86.31 L569.09,83.70 Z" fill="#4593da" stroke="#2a2a2a" stroke-width="0.55"/>
<path d="M534.60,84.09 L537.21,86.70 L534.60,89.31 L531.99,86.70 Z" fill="#a07ac6" stroke="#2a2a2a" stroke-width="0.55"/>
<circle cx="554.30" cy="103.10" r="2.75" fill="#a07ac6" stroke="#2a2a2a" stroke-width="0.55"/>
<path d="M544.00,103.97 L546.75,109.47 L541.25,109.47 Z" fill="#a07ac6" stroke="#2a2a2a" stroke-width="0.55"/>
<text x="582.50" y="82.80" font-size="8.0" fill="#231f20" ><tspan font-style="italic">r</tspan> = 0.50</text>
<text x="582.50" y="92.30" font-size="8.0" fill="#231f20" ><tspan font-style="italic">P</tspan> = 0.035</text>
<text x="629.20" y="13.70" font-size="8.0" fill="#231f20" >Cell line</text>
<circle cx="631.2" cy="21.5" r="2.55" fill="#111"/>
<text x="637.60" y="24.20" font-size="8.0" fill="#231f20" >MDA-MB-231</text>
<path d="M631.3,28.4 L634.0,31.1 L631.3,33.8 L628.6,31.1 Z" fill="#111"/>
<text x="637.60" y="34.60" font-size="8.0" fill="#231f20" >HCC1806</text>
<path d="M631.1,38.9 L634.1,43.9 L628.1,43.9 Z" fill="#111"/>
<text x="637.60" y="44.80" font-size="8.0" fill="#231f20" >EO771</text>
<text x="629.20" y="54.80" font-size="8.0" fill="#231f20" >Gene</text>
<rect x="628.7" y="60.30" width="4.8" height="4.6" fill="#e84a5f"/>
<text x="637.60" y="64.90" font-size="8.0" fill="#231f20" font-style="italic" >ASNS</text>
<rect x="628.7" y="71.16" width="4.8" height="4.6" fill="#ee7d31"/>
<text x="637.60" y="75.76" font-size="8.0" fill="#231f20" font-style="italic" >ASS1</text>
<rect x="628.7" y="82.02" width="4.8" height="4.6" fill="#e2c62d"/>
<text x="637.60" y="86.62" font-size="8.0" fill="#231f20" font-style="italic" >PHGDH</text>
<rect x="628.7" y="92.88" width="4.8" height="4.6" fill="#1aa64b"/>
<text x="637.60" y="97.48" font-size="8.0" fill="#231f20" >PYCR</text>
<rect x="628.7" y="103.74" width="4.8" height="4.6" fill="#1c86d8"/>
<text x="637.60" y="108.34" font-size="8.0" fill="#231f20" font-style="italic" >DHODH</text>
<rect x="628.7" y="114.60" width="4.8" height="4.6" fill="#9a64b5"/>
<text x="637.60" y="119.20" font-size="8.0" fill="#231f20" font-style="italic" >GART</text>
<line x1="41.40" y1="282.00" x2="41.40" y2="349.30" stroke="#231f20" stroke-width="0.6" />
<line x1="41.10" y1="349.00" x2="108.70" y2="349.00" stroke="#231f20" stroke-width="0.6" />
<line x1="38.70" y1="282.00" x2="41.40" y2="282.00" stroke="#231f20" stroke-width="0.6" />
<text x="35.80" y="284.50" font-size="8.0" fill="#231f20" text-anchor="end" >0</text>
<line x1="38.70" y1="295.40" x2="41.40" y2="295.40" stroke="#231f20" stroke-width="0.6" />
<text x="35.80" y="297.90" font-size="8.0" fill="#231f20" text-anchor="end" ><tspan letter-spacing="-0.8">−</tspan>2</text>
<line x1="38.70" y1="308.80" x2="41.40" y2="308.80" stroke="#231f20" stroke-width="0.6" />
<text x="35.80" y="311.30" font-size="8.0" fill="#231f20" text-anchor="end" ><tspan letter-spacing="-0.8">−</tspan>4</text>
<line x1="38.70" y1="322.20" x2="41.40" y2="322.20" stroke="#231f20" stroke-width="0.6" />
<text x="35.80" y="324.70" font-size="8.0" fill="#231f20" text-anchor="end" ><tspan letter-spacing="-0.8">−</tspan>6</text>
<line x1="38.70" y1="335.60" x2="41.40" y2="335.60" stroke="#231f20" stroke-width="0.6" />
<text x="35.80" y="338.10" font-size="8.0" fill="#231f20" text-anchor="end" ><tspan letter-spacing="-0.8">−</tspan>8</text>
<line x1="38.70" y1="349.00" x2="41.40" y2="349.00" stroke="#231f20" stroke-width="0.6" />
<text x="35.80" y="351.50" font-size="8.0" fill="#231f20" text-anchor="end" ><tspan letter-spacing="-0.8">−</tspan>10</text>
<line x1="39.90" y1="288.70" x2="41.40" y2="288.70" stroke="#231f20" stroke-width="0.6" />
<line x1="39.90" y1="302.10" x2="41.40" y2="302.10" stroke="#231f20" stroke-width="0.6" />
<line x1="39.90" y1="315.50" x2="41.40" y2="315.50" stroke="#231f20" stroke-width="0.6" />
<line x1="39.90" y1="328.90" x2="41.40" y2="328.90" stroke="#231f20" stroke-width="0.6" />
<line x1="39.90" y1="342.30" x2="41.40" y2="342.30" stroke="#231f20" stroke-width="0.6" />
<line x1="41.40" y1="349.00" x2="41.40" y2="351.70" stroke="#231f20" stroke-width="0.6" />
<text x="41.40" y="360.90" font-size="8.0" fill="#231f20" text-anchor="middle" >0</text>
<line x1="63.73" y1="349.00" x2="63.73" y2="351.70" stroke="#231f20" stroke-width="0.6" />
<text x="63.73" y="360.90" font-size="8.0" fill="#231f20" text-anchor="middle" >10</text>
<line x1="86.07" y1="349.00" x2="86.07" y2="351.70" stroke="#231f20" stroke-width="0.6" />
<text x="86.07" y="360.90" font-size="8.0" fill="#231f20" text-anchor="middle" >20</text>
<line x1="108.40" y1="349.00" x2="108.40" y2="351.70" stroke="#231f20" stroke-width="0.6" />
<text x="108.40" y="360.90" font-size="8.0" fill="#231f20" text-anchor="middle" >30</text>
<line x1="52.57" y1="349.00" x2="52.57" y2="350.50" stroke="#231f20" stroke-width="0.6" />
<line x1="74.90" y1="349.00" x2="74.90" y2="350.50" stroke="#231f20" stroke-width="0.6" />
<line x1="97.23" y1="349.00" x2="97.23" y2="350.50" stroke="#231f20" stroke-width="0.6" />
<text x="74.90" y="373.20" font-size="8.0" fill="#231f20" text-anchor="middle" >[Uridine] (µM)</text>
<text transform="translate(6.40,314.80) rotate(-90)" font-size="8.0" fill="#231f20" text-anchor="middle" >DHODH dependency</text>
<text transform="translate(15.80,314.80) rotate(-90)" font-size="8.0" fill="#231f20" text-anchor="middle" >(log<tspan font-size="5.8" dy="2.0">2</tspan><tspan dy="-2.0">FC (KO to Ctrl))</tspan></text>
<line x1="46.76" y1="329.57" x2="95.00" y2="328.90" stroke="#231f20" stroke-width="0.8" />
<line x1="46.76" y1="322.53" x2="46.76" y2="336.61" stroke="#231f20" stroke-width="0.75" />
<line x1="44.16" y1="322.53" x2="49.36" y2="322.53" stroke="#231f20" stroke-width="0.75" />
<line x1="44.16" y1="336.61" x2="49.36" y2="336.61" stroke="#231f20" stroke-width="0.75" />
<line x1="95.00" y1="322.20" x2="95.00" y2="335.60" stroke="#231f20" stroke-width="0.75" />
<line x1="92.40" y1="322.20" x2="97.60" y2="322.20" stroke="#231f20" stroke-width="0.75" />
<line x1="92.40" y1="335.60" x2="97.60" y2="335.60" stroke="#231f20" stroke-width="0.75" />
<circle cx="46.76" cy="329.57" r="2.75" fill="#fff" stroke="#231f20" stroke-width="0.8"/>
<path d="M95.00,325.85 L97.90,331.36 L92.10,331.36 Z" fill="#fff" stroke="#231f20" stroke-width="0.8" stroke-linejoin="miter"/>
<line x1="46.76" y1="312.15" x2="95.00" y2="307.12" stroke="#3e7ccb" stroke-width="0.8" />
<line x1="46.76" y1="309.47" x2="46.76" y2="314.83" stroke="#8eb0e0" stroke-width="0.75" />
<line x1="44.16" y1="309.47" x2="49.36" y2="309.47" stroke="#8eb0e0" stroke-width="0.75" />
<line x1="44.16" y1="314.83" x2="49.36" y2="314.83" stroke="#8eb0e0" stroke-width="0.75" />
<line x1="95.00" y1="303.44" x2="95.00" y2="310.81" stroke="#8eb0e0" stroke-width="0.75" />
<line x1="92.40" y1="303.44" x2="97.60" y2="303.44" stroke="#8eb0e0" stroke-width="0.75" />
<line x1="92.40" y1="310.81" x2="97.60" y2="310.81" stroke="#8eb0e0" stroke-width="0.75" />
<circle cx="46.76" cy="312.15" r="2.75" fill="#fff" stroke="#3e7ccb" stroke-width="0.8"/>
<path d="M95.00,304.08 L97.90,309.59 L92.10,309.59 Z" fill="#fff" stroke="#3e7ccb" stroke-width="0.8" stroke-linejoin="miter"/>
<line x1="156.80" y1="281.90" x2="156.80" y2="348.70" stroke="#231f20" stroke-width="0.6" />
<line x1="156.50" y1="348.40" x2="224.00" y2="348.40" stroke="#231f20" stroke-width="0.6" />
<line x1="154.10" y1="281.90" x2="156.80" y2="281.90" stroke="#231f20" stroke-width="0.6" />
<text x="151.20" y="284.40" font-size="8.0" fill="#231f20" text-anchor="end" >0</text>
<line x1="154.10" y1="298.52" x2="156.80" y2="298.52" stroke="#231f20" stroke-width="0.6" />
<text x="151.20" y="301.02" font-size="8.0" fill="#231f20" text-anchor="end" ><tspan letter-spacing="-0.8">−</tspan>5</text>
<line x1="154.10" y1="315.15" x2="156.80" y2="315.15" stroke="#231f20" stroke-width="0.6" />
<text x="151.20" y="317.65" font-size="8.0" fill="#231f20" text-anchor="end" ><tspan letter-spacing="-0.8">−</tspan>10</text>
<line x1="154.10" y1="331.77" x2="156.80" y2="331.77" stroke="#231f20" stroke-width="0.6" />
<text x="151.20" y="334.27" font-size="8.0" fill="#231f20" text-anchor="end" ><tspan letter-spacing="-0.8">−</tspan>15</text>
<line x1="154.10" y1="348.40" x2="156.80" y2="348.40" stroke="#231f20" stroke-width="0.6" />
<text x="151.20" y="350.90" font-size="8.0" fill="#231f20" text-anchor="end" ><tspan letter-spacing="-0.8">−</tspan>20</text>
<line x1="155.30" y1="290.21" x2="156.80" y2="290.21" stroke="#231f20" stroke-width="0.6" />
<line x1="155.30" y1="306.84" x2="156.80" y2="306.84" stroke="#231f20" stroke-width="0.6" />
<line x1="155.30" y1="323.46" x2="156.80" y2="323.46" stroke="#231f20" stroke-width="0.6" />
<line x1="155.30" y1="340.09" x2="156.80" y2="340.09" stroke="#231f20" stroke-width="0.6" />
<line x1="156.80" y1="348.40" x2="156.80" y2="351.10" stroke="#231f20" stroke-width="0.6" />
<text x="156.80" y="360.90" font-size="8.0" fill="#231f20" text-anchor="middle" >0</text>
<line x1="170.18" y1="348.40" x2="170.18" y2="351.10" stroke="#231f20" stroke-width="0.6" />
<text x="170.18" y="360.90" font-size="8.0" fill="#231f20" text-anchor="middle" >20</text>
<line x1="183.56" y1="348.40" x2="183.56" y2="351.10" stroke="#231f20" stroke-width="0.6" />
<text x="183.56" y="360.90" font-size="8.0" fill="#231f20" text-anchor="middle" >40</text>
<line x1="196.94" y1="348.40" x2="196.94" y2="351.10" stroke="#231f20" stroke-width="0.6" />
<text x="196.94" y="360.90" font-size="8.0" fill="#231f20" text-anchor="middle" >60</text>
<line x1="210.32" y1="348.40" x2="210.32" y2="351.10" stroke="#231f20" stroke-width="0.6" />
<text x="210.32" y="360.90" font-size="8.0" fill="#231f20" text-anchor="middle" >80</text>
<line x1="223.70" y1="348.40" x2="223.70" y2="351.10" stroke="#231f20" stroke-width="0.6" />
<text x="223.70" y="360.90" font-size="8.0" fill="#231f20" text-anchor="middle" >100</text>
<line x1="163.49" y1="348.40" x2="163.49" y2="349.90" stroke="#231f20" stroke-width="0.6" />
<line x1="176.87" y1="348.40" x2="176.87" y2="349.90" stroke="#231f20" stroke-width="0.6" />
<line x1="190.25" y1="348.40" x2="190.25" y2="349.90" stroke="#231f20" stroke-width="0.6" />
<line x1="203.63" y1="348.40" x2="203.63" y2="349.90" stroke="#231f20" stroke-width="0.6" />
<line x1="217.01" y1="348.40" x2="217.01" y2="349.90" stroke="#231f20" stroke-width="0.6" />
<text x="190.25" y="373.20" font-size="8.0" fill="#231f20" text-anchor="middle" >[Hypoxanthine] (µM)</text>
<text transform="translate(122.30,311.70) rotate(-90)" font-size="8.0" fill="#231f20" text-anchor="middle" >GART dependency</text>
<text transform="translate(131.90,311.70) rotate(-90)" font-size="8.0" fill="#231f20" text-anchor="middle" >(log<tspan font-size="5.8" dy="2.0">2</tspan><tspan dy="-2.0">FC (KO to Ctrl))</tspan></text>
<line x1="176.20" y1="307.50" x2="216.68" y2="329.78" stroke="#231f20" stroke-width="0.8" />
<line x1="176.20" y1="303.51" x2="176.20" y2="311.16" stroke="#231f20" stroke-width="0.75" />
<line x1="173.60" y1="303.51" x2="178.80" y2="303.51" stroke="#231f20" stroke-width="0.75" />
<line x1="173.60" y1="311.16" x2="178.80" y2="311.16" stroke="#231f20" stroke-width="0.75" />
<line x1="216.68" y1="328.45" x2="216.68" y2="331.11" stroke="#231f20" stroke-width="0.75" />
<line x1="214.08" y1="328.45" x2="219.28" y2="328.45" stroke="#231f20" stroke-width="0.75" />
<line x1="214.08" y1="331.11" x2="219.28" y2="331.11" stroke="#231f20" stroke-width="0.75" />
<circle cx="176.20" cy="307.50" r="2.75" fill="#fff" stroke="#231f20" stroke-width="0.8"/>
<path d="M216.68,326.73 L219.58,332.24 L213.78,332.24 Z" fill="#fff" stroke="#231f20" stroke-width="0.8" stroke-linejoin="miter"/>
<line x1="176.20" y1="319.80" x2="216.68" y2="322.13" stroke="#3e7ccb" stroke-width="0.8" />
<line x1="176.20" y1="318.81" x2="176.20" y2="320.80" stroke="#8eb0e0" stroke-width="0.75" />
<line x1="173.60" y1="318.81" x2="178.80" y2="318.81" stroke="#8eb0e0" stroke-width="0.75" />
<line x1="173.60" y1="320.80" x2="178.80" y2="320.80" stroke="#8eb0e0" stroke-width="0.75" />
<line x1="216.68" y1="321.13" x2="216.68" y2="323.13" stroke="#8eb0e0" stroke-width="0.75" />
<line x1="214.08" y1="321.13" x2="219.28" y2="321.13" stroke="#8eb0e0" stroke-width="0.75" />
<line x1="214.08" y1="323.13" x2="219.28" y2="323.13" stroke="#8eb0e0" stroke-width="0.75" />
<circle cx="176.20" cy="319.80" r="2.75" fill="#fff" stroke="#3e7ccb" stroke-width="0.8"/>
<path d="M216.68,319.09 L219.58,324.60 L213.78,324.60 Z" fill="#fff" stroke="#3e7ccb" stroke-width="0.8" stroke-linejoin="miter"/>
<line x1="273.50" y1="283.10" x2="273.50" y2="349.60" stroke="#231f20" stroke-width="0.6" />
<line x1="273.20" y1="349.30" x2="341.80" y2="349.30" stroke="#231f20" stroke-width="0.6" />
<line x1="270.80" y1="283.10" x2="273.50" y2="283.10" stroke="#231f20" stroke-width="0.6" />
<text x="267.90" y="285.60" font-size="8.0" fill="#231f20" text-anchor="end" >2</text>
<line x1="270.80" y1="294.13" x2="273.50" y2="294.13" stroke="#231f20" stroke-width="0.6" />
<text x="267.90" y="296.63" font-size="8.0" fill="#231f20" text-anchor="end" >0</text>
<line x1="270.80" y1="305.17" x2="273.50" y2="305.17" stroke="#231f20" stroke-width="0.6" />
<text x="267.90" y="307.67" font-size="8.0" fill="#231f20" text-anchor="end" ><tspan letter-spacing="-0.8">−</tspan>2</text>
<line x1="270.80" y1="316.20" x2="273.50" y2="316.20" stroke="#231f20" stroke-width="0.6" />
<text x="267.90" y="318.70" font-size="8.0" fill="#231f20" text-anchor="end" ><tspan letter-spacing="-0.8">−</tspan>4</text>
<line x1="270.80" y1="327.23" x2="273.50" y2="327.23" stroke="#231f20" stroke-width="0.6" />
<text x="267.90" y="329.73" font-size="8.0" fill="#231f20" text-anchor="end" ><tspan letter-spacing="-0.8">−</tspan>6</text>
<line x1="270.80" y1="338.27" x2="273.50" y2="338.27" stroke="#231f20" stroke-width="0.6" />
<text x="267.90" y="340.77" font-size="8.0" fill="#231f20" text-anchor="end" ><tspan letter-spacing="-0.8">−</tspan>8</text>
<line x1="270.80" y1="349.30" x2="273.50" y2="349.30" stroke="#231f20" stroke-width="0.6" />
<text x="267.90" y="351.80" font-size="8.0" fill="#231f20" text-anchor="end" ><tspan letter-spacing="-0.8">−</tspan>10</text>
<line x1="272.00" y1="288.62" x2="273.50" y2="288.62" stroke="#231f20" stroke-width="0.6" />
<line x1="272.00" y1="299.65" x2="273.50" y2="299.65" stroke="#231f20" stroke-width="0.6" />
<line x1="272.00" y1="310.68" x2="273.50" y2="310.68" stroke="#231f20" stroke-width="0.6" />
<line x1="272.00" y1="321.72" x2="273.50" y2="321.72" stroke="#231f20" stroke-width="0.6" />
<line x1="272.00" y1="332.75" x2="273.50" y2="332.75" stroke="#231f20" stroke-width="0.6" />
<line x1="272.00" y1="343.78" x2="273.50" y2="343.78" stroke="#231f20" stroke-width="0.6" />
<line x1="273.50" y1="349.30" x2="273.50" y2="352.00" stroke="#231f20" stroke-width="0.6" />
<text x="273.50" y="360.90" font-size="8.0" fill="#231f20" text-anchor="middle" >0</text>
<line x1="290.50" y1="349.30" x2="290.50" y2="352.00" stroke="#231f20" stroke-width="0.6" />
<text x="290.50" y="360.90" font-size="8.0" fill="#231f20" text-anchor="middle" >10</text>
<line x1="307.50" y1="349.30" x2="307.50" y2="352.00" stroke="#231f20" stroke-width="0.6" />
<text x="307.50" y="360.90" font-size="8.0" fill="#231f20" text-anchor="middle" >20</text>
<line x1="324.50" y1="349.30" x2="324.50" y2="352.00" stroke="#231f20" stroke-width="0.6" />
<text x="324.50" y="360.90" font-size="8.0" fill="#231f20" text-anchor="middle" >30</text>
<line x1="341.50" y1="349.30" x2="341.50" y2="352.00" stroke="#231f20" stroke-width="0.6" />
<text x="341.50" y="360.90" font-size="8.0" fill="#231f20" text-anchor="middle" >40</text>
<line x1="282.00" y1="349.30" x2="282.00" y2="350.80" stroke="#231f20" stroke-width="0.6" />
<line x1="299.00" y1="349.30" x2="299.00" y2="350.80" stroke="#231f20" stroke-width="0.6" />
<line x1="316.00" y1="349.30" x2="316.00" y2="350.80" stroke="#231f20" stroke-width="0.6" />
<line x1="333.00" y1="349.30" x2="333.00" y2="350.80" stroke="#231f20" stroke-width="0.6" />
<text x="307.50" y="373.20" font-size="8.0" fill="#231f20" text-anchor="middle" >[Asparagine] (µM)</text>
<text transform="translate(240.30,316.00) rotate(-90)" font-size="8.0" fill="#231f20" text-anchor="middle" >ASNS dependency</text>
<text transform="translate(249.30,316.00) rotate(-90)" font-size="8.0" fill="#231f20" text-anchor="middle" >(log<tspan font-size="5.8" dy="2.0">2</tspan><tspan dy="-2.0">FC (KO to Ctrl))</tspan></text>
<line x1="281.49" y1="331.10" x2="335.38" y2="341.58" stroke="#231f20" stroke-width="0.8" />
<line x1="281.49" y1="325.58" x2="281.49" y2="336.61" stroke="#231f20" stroke-width="0.75" />
<line x1="278.89" y1="325.58" x2="284.09" y2="325.58" stroke="#231f20" stroke-width="0.75" />
<line x1="278.89" y1="336.61" x2="284.09" y2="336.61" stroke="#231f20" stroke-width="0.75" />
<line x1="335.38" y1="337.99" x2="335.38" y2="345.44" stroke="#231f20" stroke-width="0.75" />
<line x1="332.78" y1="337.99" x2="337.98" y2="337.99" stroke="#231f20" stroke-width="0.75" />
<line x1="332.78" y1="345.44" x2="337.98" y2="345.44" stroke="#231f20" stroke-width="0.75" />
<circle cx="281.49" cy="331.10" r="2.75" fill="#fff" stroke="#231f20" stroke-width="0.8"/>
<path d="M335.38,338.53 L338.28,344.04 L332.48,344.04 Z" fill="#fff" stroke="#231f20" stroke-width="0.8" stroke-linejoin="miter"/>
<line x1="281.49" y1="291.65" x2="335.38" y2="301.03" stroke="#3e7ccb" stroke-width="0.8" />
<line x1="281.49" y1="290.82" x2="281.49" y2="292.48" stroke="#8eb0e0" stroke-width="0.75" />
<line x1="278.89" y1="290.82" x2="284.09" y2="290.82" stroke="#8eb0e0" stroke-width="0.75" />
<line x1="278.89" y1="292.48" x2="284.09" y2="292.48" stroke="#8eb0e0" stroke-width="0.75" />
<line x1="335.38" y1="300.20" x2="335.38" y2="301.86" stroke="#8eb0e0" stroke-width="0.75" />
<line x1="332.78" y1="300.20" x2="337.98" y2="300.20" stroke="#8eb0e0" stroke-width="0.75" />
<line x1="332.78" y1="301.86" x2="337.98" y2="301.86" stroke="#8eb0e0" stroke-width="0.75" />
<circle cx="281.49" cy="291.65" r="2.75" fill="#fff" stroke="#3e7ccb" stroke-width="0.8"/>
<path d="M335.38,297.98 L338.28,303.49 L332.48,303.49 Z" fill="#fff" stroke="#3e7ccb" stroke-width="0.8" stroke-linejoin="miter"/>
<line x1="388.20" y1="283.30" x2="388.20" y2="350.80" stroke="#231f20" stroke-width="0.6" />
<line x1="387.90" y1="350.50" x2="454.70" y2="350.50" stroke="#231f20" stroke-width="0.6" />
<line x1="385.50" y1="283.30" x2="388.20" y2="283.30" stroke="#231f20" stroke-width="0.6" />
<text x="382.60" y="285.80" font-size="8.0" fill="#231f20" text-anchor="end" >0</text>
<line x1="385.50" y1="292.90" x2="388.20" y2="292.90" stroke="#231f20" stroke-width="0.6" />
<text x="382.60" y="295.40" font-size="8.0" fill="#231f20" text-anchor="end" ><tspan letter-spacing="-0.8">−</tspan>2</text>
<line x1="385.50" y1="302.50" x2="388.20" y2="302.50" stroke="#231f20" stroke-width="0.6" />
<text x="382.60" y="305.00" font-size="8.0" fill="#231f20" text-anchor="end" ><tspan letter-spacing="-0.8">−</tspan>4</text>
<line x1="385.50" y1="312.10" x2="388.20" y2="312.10" stroke="#231f20" stroke-width="0.6" />
<text x="382.60" y="314.60" font-size="8.0" fill="#231f20" text-anchor="end" ><tspan letter-spacing="-0.8">−</tspan>6</text>
<line x1="385.50" y1="321.70" x2="388.20" y2="321.70" stroke="#231f20" stroke-width="0.6" />
<text x="382.60" y="324.20" font-size="8.0" fill="#231f20" text-anchor="end" ><tspan letter-spacing="-0.8">−</tspan>8</text>
<line x1="385.50" y1="331.30" x2="388.20" y2="331.30" stroke="#231f20" stroke-width="0.6" />
<text x="382.60" y="333.80" font-size="8.0" fill="#231f20" text-anchor="end" ><tspan letter-spacing="-0.8">−</tspan>10</text>
<line x1="385.50" y1="340.90" x2="388.20" y2="340.90" stroke="#231f20" stroke-width="0.6" />
<text x="382.60" y="343.40" font-size="8.0" fill="#231f20" text-anchor="end" ><tspan letter-spacing="-0.8">−</tspan>12</text>
<line x1="385.50" y1="350.50" x2="388.20" y2="350.50" stroke="#231f20" stroke-width="0.6" />
<text x="382.60" y="353.00" font-size="8.0" fill="#231f20" text-anchor="end" ><tspan letter-spacing="-0.8">−</tspan>14</text>
<line x1="386.70" y1="288.10" x2="388.20" y2="288.10" stroke="#231f20" stroke-width="0.6" />
<line x1="386.70" y1="297.70" x2="388.20" y2="297.70" stroke="#231f20" stroke-width="0.6" />
<line x1="386.70" y1="307.30" x2="388.20" y2="307.30" stroke="#231f20" stroke-width="0.6" />
<line x1="386.70" y1="316.90" x2="388.20" y2="316.90" stroke="#231f20" stroke-width="0.6" />
<line x1="386.70" y1="326.50" x2="388.20" y2="326.50" stroke="#231f20" stroke-width="0.6" />
<line x1="386.70" y1="336.10" x2="388.20" y2="336.10" stroke="#231f20" stroke-width="0.6" />
<line x1="386.70" y1="345.70" x2="388.20" y2="345.70" stroke="#231f20" stroke-width="0.6" />
<line x1="388.20" y1="350.50" x2="388.20" y2="353.20" stroke="#231f20" stroke-width="0.6" />
<text x="388.20" y="360.90" font-size="8.0" fill="#231f20" text-anchor="middle" >0</text>
<line x1="410.27" y1="350.50" x2="410.27" y2="353.20" stroke="#231f20" stroke-width="0.6" />
<text x="410.27" y="360.90" font-size="8.0" fill="#231f20" text-anchor="middle" >40</text>
<line x1="432.33" y1="350.50" x2="432.33" y2="353.20" stroke="#231f20" stroke-width="0.6" />
<text x="432.33" y="360.90" font-size="8.0" fill="#231f20" text-anchor="middle" >80</text>
<line x1="454.40" y1="350.50" x2="454.40" y2="353.20" stroke="#231f20" stroke-width="0.6" />
<text x="454.40" y="360.90" font-size="8.0" fill="#231f20" text-anchor="middle" >120</text>
<line x1="399.23" y1="350.50" x2="399.23" y2="352.00" stroke="#231f20" stroke-width="0.6" />
<line x1="421.30" y1="350.50" x2="421.30" y2="352.00" stroke="#231f20" stroke-width="0.6" />
<line x1="443.37" y1="350.50" x2="443.37" y2="352.00" stroke="#231f20" stroke-width="0.6" />
<text x="421.30" y="373.20" font-size="8.0" fill="#231f20" text-anchor="middle" >[Arginine] (µM)</text>
<text transform="translate(353.80,317.00) rotate(-90)" font-size="8.0" fill="#231f20" text-anchor="middle" >ASS1 dependency</text>
<text transform="translate(362.70,317.00) rotate(-90)" font-size="8.0" fill="#231f20" text-anchor="middle" >(log<tspan font-size="5.8" dy="2.0">2</tspan><tspan dy="-2.0">FC (KO to Ctrl))</tspan></text>
<line x1="412.47" y1="294.82" x2="449.16" y2="320.02" stroke="#231f20" stroke-width="0.8" />
<line x1="412.47" y1="288.58" x2="412.47" y2="301.06" stroke="#231f20" stroke-width="0.75" />
<line x1="409.87" y1="288.58" x2="415.07" y2="288.58" stroke="#231f20" stroke-width="0.75" />
<line x1="409.87" y1="301.06" x2="415.07" y2="301.06" stroke="#231f20" stroke-width="0.75" />
<line x1="449.16" y1="313.78" x2="449.16" y2="324.34" stroke="#231f20" stroke-width="0.75" />
<line x1="446.56" y1="313.78" x2="451.76" y2="313.78" stroke="#231f20" stroke-width="0.75" />
<line x1="446.56" y1="324.34" x2="451.76" y2="324.34" stroke="#231f20" stroke-width="0.75" />
<circle cx="412.47" cy="294.82" r="2.75" fill="#fff" stroke="#231f20" stroke-width="0.8"/>
<path d="M449.16,316.97 L452.06,322.48 L446.26,322.48 Z" fill="#fff" stroke="#231f20" stroke-width="0.8" stroke-linejoin="miter"/>
<line x1="412.47" y1="333.70" x2="449.16" y2="304.66" stroke="#3e7ccb" stroke-width="0.8" />
<line x1="412.47" y1="324.10" x2="412.47" y2="343.30" stroke="#8eb0e0" stroke-width="0.75" />
<line x1="409.87" y1="324.10" x2="415.07" y2="324.10" stroke="#8eb0e0" stroke-width="0.75" />
<line x1="409.87" y1="343.30" x2="415.07" y2="343.30" stroke="#8eb0e0" stroke-width="0.75" />
<line x1="449.16" y1="300.34" x2="449.16" y2="307.30" stroke="#8eb0e0" stroke-width="0.75" />
<line x1="446.56" y1="300.34" x2="451.76" y2="300.34" stroke="#8eb0e0" stroke-width="0.75" />
<line x1="446.56" y1="307.30" x2="451.76" y2="307.30" stroke="#8eb0e0" stroke-width="0.75" />
<circle cx="412.47" cy="333.70" r="2.75" fill="#fff" stroke="#3e7ccb" stroke-width="0.8"/>
<path d="M449.16,301.62 L452.06,307.12 L446.26,307.12 Z" fill="#fff" stroke="#3e7ccb" stroke-width="0.8" stroke-linejoin="miter"/>
<line x1="500.80" y1="282.60" x2="500.80" y2="349.70" stroke="#231f20" stroke-width="0.6" />
<line x1="500.50" y1="349.40" x2="567.90" y2="349.40" stroke="#231f20" stroke-width="0.6" />
<line x1="498.10" y1="282.60" x2="500.80" y2="282.60" stroke="#231f20" stroke-width="0.6" />
<text x="495.20" y="285.10" font-size="8.0" fill="#231f20" text-anchor="end" >0</text>
<line x1="498.10" y1="299.30" x2="500.80" y2="299.30" stroke="#231f20" stroke-width="0.6" />
<text x="495.20" y="301.80" font-size="8.0" fill="#231f20" text-anchor="end" ><tspan letter-spacing="-0.8">−</tspan>2</text>
<line x1="498.10" y1="316.00" x2="500.80" y2="316.00" stroke="#231f20" stroke-width="0.6" />
<text x="495.20" y="318.50" font-size="8.0" fill="#231f20" text-anchor="end" ><tspan letter-spacing="-0.8">−</tspan>4</text>
<line x1="498.10" y1="332.70" x2="500.80" y2="332.70" stroke="#231f20" stroke-width="0.6" />
<text x="495.20" y="335.20" font-size="8.0" fill="#231f20" text-anchor="end" ><tspan letter-spacing="-0.8">−</tspan>6</text>
<line x1="498.10" y1="349.40" x2="500.80" y2="349.40" stroke="#231f20" stroke-width="0.6" />
<text x="495.20" y="351.90" font-size="8.0" fill="#231f20" text-anchor="end" ><tspan letter-spacing="-0.8">−</tspan>8</text>
<line x1="499.30" y1="290.95" x2="500.80" y2="290.95" stroke="#231f20" stroke-width="0.6" />
<line x1="499.30" y1="307.65" x2="500.80" y2="307.65" stroke="#231f20" stroke-width="0.6" />
<line x1="499.30" y1="324.35" x2="500.80" y2="324.35" stroke="#231f20" stroke-width="0.6" />
<line x1="499.30" y1="341.05" x2="500.80" y2="341.05" stroke="#231f20" stroke-width="0.6" />
<line x1="500.80" y1="349.40" x2="500.80" y2="352.10" stroke="#231f20" stroke-width="0.6" />
<text x="500.80" y="360.90" font-size="8.0" fill="#231f20" text-anchor="middle" >0</text>
<line x1="517.50" y1="349.40" x2="517.50" y2="352.10" stroke="#231f20" stroke-width="0.6" />
<text x="517.50" y="360.90" font-size="8.0" fill="#231f20" text-anchor="middle" >100</text>
<line x1="534.20" y1="349.40" x2="534.20" y2="352.10" stroke="#231f20" stroke-width="0.6" />
<text x="534.20" y="360.90" font-size="8.0" fill="#231f20" text-anchor="middle" >200</text>
<line x1="550.90" y1="349.40" x2="550.90" y2="352.10" stroke="#231f20" stroke-width="0.6" />
<text x="550.90" y="360.90" font-size="8.0" fill="#231f20" text-anchor="middle" >300</text>
<line x1="567.60" y1="349.40" x2="567.60" y2="352.10" stroke="#231f20" stroke-width="0.6" />
<text x="567.60" y="360.90" font-size="8.0" fill="#231f20" text-anchor="middle" >400</text>
<line x1="509.15" y1="349.40" x2="509.15" y2="350.90" stroke="#231f20" stroke-width="0.6" />
<line x1="525.85" y1="349.40" x2="525.85" y2="350.90" stroke="#231f20" stroke-width="0.6" />
<line x1="542.55" y1="349.40" x2="542.55" y2="350.90" stroke="#231f20" stroke-width="0.6" />
<line x1="559.25" y1="349.40" x2="559.25" y2="350.90" stroke="#231f20" stroke-width="0.6" />
<text x="534.20" y="373.20" font-size="8.0" fill="#231f20" text-anchor="middle" >[Serine] (µM)</text>
<text transform="translate(470.90,311.30) rotate(-90)" font-size="8.0" fill="#231f20" text-anchor="middle" >PHGDH dependency</text>
<text transform="translate(480.30,311.30) rotate(-90)" font-size="8.0" fill="#231f20" text-anchor="middle" >(log<tspan font-size="5.8" dy="2.0">2</tspan><tspan dy="-2.0">FC (KO to Ctrl))</tspan></text>
<line x1="513.66" y1="329.36" x2="554.57" y2="336.04" stroke="#231f20" stroke-width="0.8" />
<line x1="513.66" y1="314.33" x2="513.66" y2="344.39" stroke="#231f20" stroke-width="0.75" />
<line x1="511.06" y1="314.33" x2="516.26" y2="314.33" stroke="#231f20" stroke-width="0.75" />
<line x1="511.06" y1="344.39" x2="516.26" y2="344.39" stroke="#231f20" stroke-width="0.75" />
<line x1="554.57" y1="325.19" x2="554.57" y2="346.06" stroke="#231f20" stroke-width="0.75" />
<line x1="551.97" y1="325.19" x2="557.17" y2="325.19" stroke="#231f20" stroke-width="0.75" />
<line x1="551.97" y1="346.06" x2="557.17" y2="346.06" stroke="#231f20" stroke-width="0.75" />
<circle cx="513.66" cy="329.36" r="2.75" fill="#fff" stroke="#231f20" stroke-width="0.8"/>
<path d="M554.57,332.99 L557.47,338.50 L551.67,338.50 Z" fill="#fff" stroke="#231f20" stroke-width="0.8" stroke-linejoin="miter"/>
<line x1="513.66" y1="298.47" x2="554.57" y2="290.70" stroke="#3e7ccb" stroke-width="0.8" />
<line x1="513.66" y1="293.04" x2="513.66" y2="304.31" stroke="#8eb0e0" stroke-width="0.75" />
<line x1="511.06" y1="293.04" x2="516.26" y2="293.04" stroke="#8eb0e0" stroke-width="0.75" />
<line x1="511.06" y1="304.31" x2="516.26" y2="304.31" stroke="#8eb0e0" stroke-width="0.75" />
<line x1="554.57" y1="285.52" x2="554.57" y2="295.54" stroke="#8eb0e0" stroke-width="0.75" />
<line x1="551.97" y1="285.52" x2="557.17" y2="285.52" stroke="#8eb0e0" stroke-width="0.75" />
<line x1="551.97" y1="295.54" x2="557.17" y2="295.54" stroke="#8eb0e0" stroke-width="0.75" />
<circle cx="513.66" cy="298.47" r="2.75" fill="#fff" stroke="#3e7ccb" stroke-width="0.8"/>
<path d="M554.57,287.65 L557.47,293.16 L551.67,293.16 Z" fill="#fff" stroke="#3e7ccb" stroke-width="0.8" stroke-linejoin="miter"/>
<line x1="610.70" y1="282.60" x2="610.70" y2="349.60" stroke="#231f20" stroke-width="0.6" />
<line x1="610.40" y1="349.30" x2="676.30" y2="349.30" stroke="#231f20" stroke-width="0.6" />
<line x1="608.00" y1="282.60" x2="610.70" y2="282.60" stroke="#231f20" stroke-width="0.6" />
<text x="605.10" y="285.10" font-size="8.0" fill="#231f20" text-anchor="end" >0</text>
<line x1="608.00" y1="299.28" x2="610.70" y2="299.28" stroke="#231f20" stroke-width="0.6" />
<text x="605.10" y="301.78" font-size="8.0" fill="#231f20" text-anchor="end" ><tspan letter-spacing="-0.8">−</tspan>2</text>
<line x1="608.00" y1="315.95" x2="610.70" y2="315.95" stroke="#231f20" stroke-width="0.6" />
<text x="605.10" y="318.45" font-size="8.0" fill="#231f20" text-anchor="end" ><tspan letter-spacing="-0.8">−</tspan>4</text>
<line x1="608.00" y1="332.62" x2="610.70" y2="332.62" stroke="#231f20" stroke-width="0.6" />
<text x="605.10" y="335.12" font-size="8.0" fill="#231f20" text-anchor="end" ><tspan letter-spacing="-0.8">−</tspan>6</text>
<line x1="608.00" y1="349.30" x2="610.70" y2="349.30" stroke="#231f20" stroke-width="0.6" />
<text x="605.10" y="351.80" font-size="8.0" fill="#231f20" text-anchor="end" ><tspan letter-spacing="-0.8">−</tspan>8</text>
<line x1="609.20" y1="290.94" x2="610.70" y2="290.94" stroke="#231f20" stroke-width="0.6" />
<line x1="609.20" y1="307.61" x2="610.70" y2="307.61" stroke="#231f20" stroke-width="0.6" />
<line x1="609.20" y1="324.29" x2="610.70" y2="324.29" stroke="#231f20" stroke-width="0.6" />
<line x1="609.20" y1="340.96" x2="610.70" y2="340.96" stroke="#231f20" stroke-width="0.6" />
<line x1="610.70" y1="349.30" x2="610.70" y2="352.00" stroke="#231f20" stroke-width="0.6" />
<text x="610.70" y="360.90" font-size="8.0" fill="#231f20" text-anchor="middle" >0</text>
<line x1="627.03" y1="349.30" x2="627.03" y2="352.00" stroke="#231f20" stroke-width="0.6" />
<text x="627.03" y="360.90" font-size="8.0" fill="#231f20" text-anchor="middle" >50</text>
<line x1="643.35" y1="349.30" x2="643.35" y2="352.00" stroke="#231f20" stroke-width="0.6" />
<text x="643.35" y="360.90" font-size="8.0" fill="#231f20" text-anchor="middle" >100</text>
<line x1="659.67" y1="349.30" x2="659.67" y2="352.00" stroke="#231f20" stroke-width="0.6" />
<text x="659.67" y="360.90" font-size="8.0" fill="#231f20" text-anchor="middle" >150</text>
<line x1="676.00" y1="349.30" x2="676.00" y2="352.00" stroke="#231f20" stroke-width="0.6" />
<text x="676.00" y="360.90" font-size="8.0" fill="#231f20" text-anchor="middle" >200</text>
<line x1="618.86" y1="349.30" x2="618.86" y2="350.80" stroke="#231f20" stroke-width="0.6" />
<line x1="635.19" y1="349.30" x2="635.19" y2="350.80" stroke="#231f20" stroke-width="0.6" />
<line x1="651.51" y1="349.30" x2="651.51" y2="350.80" stroke="#231f20" stroke-width="0.6" />
<line x1="667.84" y1="349.30" x2="667.84" y2="350.80" stroke="#231f20" stroke-width="0.6" />
<text x="643.35" y="373.20" font-size="8.0" fill="#231f20" text-anchor="middle" >[Proline] (µM)</text>
<text transform="translate(581.30,315.70) rotate(-90)" font-size="8.0" fill="#231f20" text-anchor="middle" >PYCR dependency</text>
<text transform="translate(590.60,315.70) rotate(-90)" font-size="8.0" fill="#231f20" text-anchor="middle" >(log<tspan font-size="5.8" dy="2.0">2</tspan><tspan dy="-2.0">FC (KO to Ctrl))</tspan></text>
<line x1="615.79" y1="302.61" x2="659.67" y2="296.77" stroke="#231f20" stroke-width="0.8" />
<line x1="615.79" y1="296.36" x2="615.79" y2="309.28" stroke="#231f20" stroke-width="0.75" />
<line x1="613.19" y1="296.36" x2="618.39" y2="296.36" stroke="#231f20" stroke-width="0.75" />
<line x1="613.19" y1="309.28" x2="618.39" y2="309.28" stroke="#231f20" stroke-width="0.75" />
<line x1="659.67" y1="293.86" x2="659.67" y2="300.11" stroke="#231f20" stroke-width="0.75" />
<line x1="657.07" y1="293.86" x2="662.27" y2="293.86" stroke="#231f20" stroke-width="0.75" />
<line x1="657.07" y1="300.11" x2="662.27" y2="300.11" stroke="#231f20" stroke-width="0.75" />
<circle cx="615.79" cy="302.61" r="2.75" fill="#fff" stroke="#231f20" stroke-width="0.8"/>
<path d="M659.67,293.73 L662.57,299.24 L656.77,299.24 Z" fill="#fff" stroke="#231f20" stroke-width="0.8" stroke-linejoin="miter"/>
<line x1="615.79" y1="323.87" x2="659.67" y2="291.35" stroke="#3e7ccb" stroke-width="0.8" />
<line x1="615.79" y1="320.12" x2="615.79" y2="327.21" stroke="#8eb0e0" stroke-width="0.75" />
<line x1="613.19" y1="320.12" x2="618.39" y2="320.12" stroke="#8eb0e0" stroke-width="0.75" />
<line x1="613.19" y1="327.21" x2="618.39" y2="327.21" stroke="#8eb0e0" stroke-width="0.75" />
<line x1="659.67" y1="287.19" x2="659.67" y2="294.69" stroke="#8eb0e0" stroke-width="0.75" />
<line x1="657.07" y1="287.19" x2="662.27" y2="287.19" stroke="#8eb0e0" stroke-width="0.75" />
<line x1="657.07" y1="294.69" x2="662.27" y2="294.69" stroke="#8eb0e0" stroke-width="0.75" />
<circle cx="615.79" cy="323.87" r="2.75" fill="#fff" stroke="#3e7ccb" stroke-width="0.8"/>
<path d="M659.67,288.31 L662.57,293.82 L656.77,293.82 Z" fill="#fff" stroke="#3e7ccb" stroke-width="0.8" stroke-linejoin="miter"/>
<text x="241.50" y="388.70" font-size="8.0" fill="#231f20" >Tissue</text>
<circle cx="269.9" cy="386.4" r="2.65" fill="#111"/>
<text x="277.70" y="388.70" font-size="8.0" fill="#231f20" >Brain</text>
<path d="M310.9,383.5 L313.7,388.5 L308.1,388.5 Z" fill="#111"/>
<text x="317.40" y="388.70" font-size="8.0" fill="#231f20" >MFP</text>
<text x="344.60" y="388.70" font-size="8.0" fill="#231f20" >Cell line</text>
<line x1="376.00" y1="386.10" x2="382.60" y2="386.10" stroke="#111" stroke-width="1.1" />
<text x="385.90" y="388.70" font-size="8.0" fill="#231f20" >MDA-MB-231</text>
<line x1="447.00" y1="386.10" x2="453.30" y2="386.10" stroke="#3e7ccb" stroke-width="1.1" />
<text x="456.80" y="388.70" font-size="8.0" fill="#231f20" >HCC1806</text>
</svg>
</body></html>
